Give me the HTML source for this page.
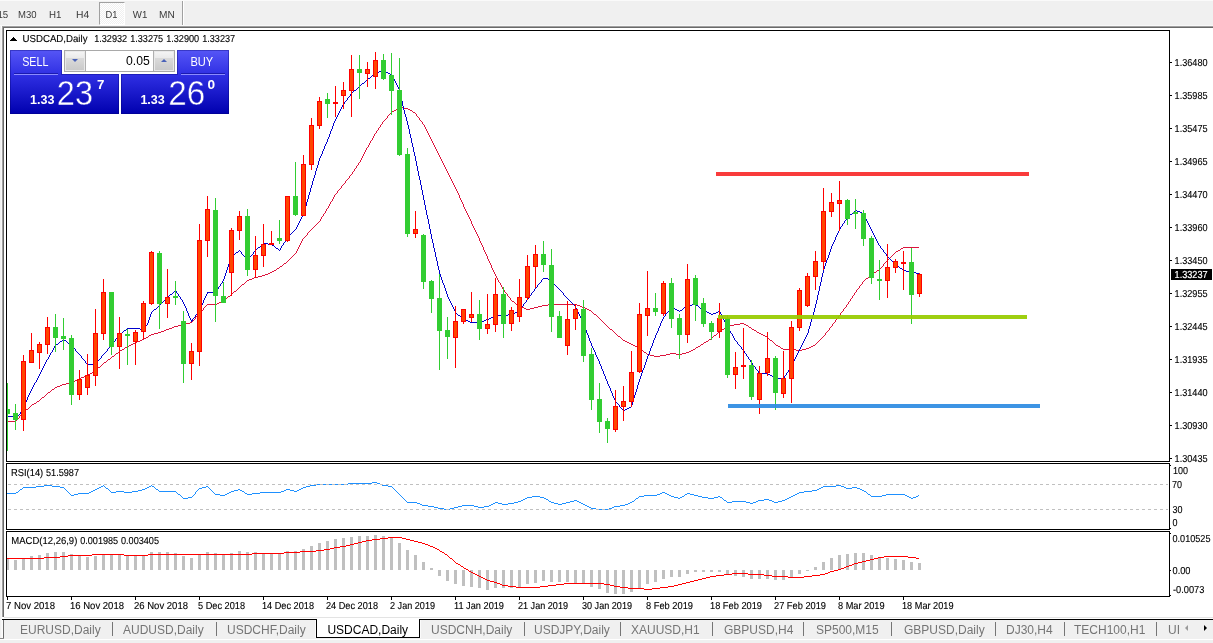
<!DOCTYPE html>
<html><head><meta charset="utf-8"><title>USDCAD,Daily</title>
<style>
html,body{margin:0;padding:0;background:#fff;}
body{width:1213px;height:643px;position:relative;overflow:hidden;font-family:"Liberation Sans",sans-serif;}
#chart{position:absolute;left:0;top:0;}
#chart text{font-family:"Liberation Sans",sans-serif;}
.abs{position:absolute;}
#tb{left:0;top:0;width:1213px;height:26px;background:#f0f0f0;}
#tb span{position:absolute;top:8px;font-size:9.4px;color:#3c3c3c;line-height:11px;white-space:nowrap;letter-spacing:0.25px;}
#d1{left:99px;top:2px;width:24px;height:21px;border:1px solid #a0a0a0;border-right-color:#fff;border-bottom-color:#fff;background-color:#fff;background-image:conic-gradient(#fff 25%,#f0f0f0 0 50%,#fff 0 75%,#f0f0f0 0);background-size:2px 2px;}
#tabs{left:4px;top:620px;width:1209px;height:19px;background:#f0f0f0;}
#tabs span{position:absolute;top:3px;font-size:12px;line-height:14px;color:#757575;white-space:nowrap;}
#tabs i{position:absolute;top:2px;width:1px;height:14px;background:#767676;}
.tp{background:linear-gradient(#5252f2,#2f2fe2 40%,#0000b0);}
</style></head><body>
<div class="abs" id="tb">
<div class="abs" id="d1"></div>
<div class="abs" style="left:182px;top:1px;width:1px;height:24px;background:#a0a0a0"></div>
<div class="abs" style="left:183px;top:1px;width:1px;height:24px;background:#fff"></div>
</div>
<div class="abs" style="left:0;top:0;width:1213px;height:1px;background:#fafafa"></div>
<div class="abs" style="left:0;top:25px;width:1213px;height:1px;background:#f8f8f8"></div>
<div class="abs" style="left:2px;top:26px;width:1213px;height:1px;background:#a0a0a0"></div>
<div class="abs" style="left:3px;top:27px;width:1213px;height:1px;background:#696969"></div>
<div class="abs" style="left:0;top:26px;width:1px;height:614px;background:#f0f0f0"></div>
<div class="abs" style="left:1px;top:28px;width:1px;height:610px;background:#f7f7f7"></div>
<div class="abs" style="left:2px;top:26px;width:1px;height:591px;background:#a0a0a0"></div>
<div class="abs" style="left:3px;top:27px;width:1px;height:590px;background:#696969"></div>
<div class="abs" style="left:2px;top:620px;width:1px;height:18px;background:#fbfbfb"></div>
<div class="abs" style="left:3px;top:620px;width:1px;height:18px;background:#696969"></div>
<!-- tabs -->
<div class="abs" style="left:4px;top:617px;width:1213px;height:1px;background:#e3e3e3"></div>
<div class="abs" style="left:2px;top:619px;width:1213px;height:1px;background:#000"></div>
<div class="abs" id="tabs"><div class="abs" style="left:-4px;top:0">
<span style="left:20px">EURUSD,Daily</span><i style="left:112px"></i>
<span style="left:123px">AUDUSD,Daily</span><i style="left:216px"></i>
<span style="left:227px">USDCHF,Daily</span>
<span style="left:431px">USDCNH,Daily</span><i style="left:524px"></i>
<span style="left:534px">USDJPY,Daily</span><i style="left:620px"></i>
<span style="left:631px">XAUUSD,H1</span><i style="left:712px"></i>
<span style="left:724px">GBPUSD,H4</span><i style="left:803px"></i>
<span style="left:816px">SP500,M15</span><i style="left:891px"></i>
<span style="left:904px">GBPUSD,Daily</span><i style="left:995px"></i>
<span style="left:1006px">DJ30,H4</span><i style="left:1064px"></i>
<span style="left:1074px">TECH100,H1</span><i style="left:1156px"></i>
<span style="left:1168px">UI</span>
<div class="abs" style="left:1181px;top:0;width:32px;height:18px;background:#f0f0f0"></div>
<div class="abs" style="left:1185px;top:5px;width:0;height:0;border-top:3px solid transparent;border-bottom:3px solid transparent;border-right:3.5px solid #9a9a9a"></div>
<div class="abs" style="left:1204px;top:5px;width:0;height:0;border-top:3px solid transparent;border-bottom:3px solid transparent;border-left:3.5px solid #000"></div>
</div></div>
<div class="abs" style="left:315px;top:620px;width:1px;height:18px;background:#fbfbfb"></div>
<div class="abs" style="left:420px;top:620px;width:1px;height:18px;background:#fbfbfb"></div>
<div class="abs" style="left:316px;top:619px;width:102px;height:18px;background:#fff;border-left:1px solid #000;border-right:1px solid #000;border-bottom:1px solid #000;"></div>
<div class="abs" style="left:327.4px;top:623px;font-size:12px;line-height:14px;color:#000;white-space:nowrap">USDCAD,Daily</div>
<div class="abs" style="left:0;top:638px;width:4px;height:1px;background:#8a8a8a"></div>
<div class="abs" style="left:0;top:639px;width:1213px;height:1px;background:#fff"></div>
<div class="abs" style="left:0;top:640px;width:1213px;height:3px;background:#f0f0f0"></div>
<svg id="chart" width="1213" height="643" viewBox="0 0 1213 643">
<g shape-rendering="crispEdges">
<path d="M6.5 30.5H1169.5V461.5H6.5Z" fill="none" stroke="#000" stroke-width="1"/>
<path d="M6.5 463.5H1169.5V529.5H6.5Z" fill="none" stroke="#000" stroke-width="1"/>
<path d="M6.5 531.5H1169.5V596.5H6.5Z" fill="none" stroke="#000" stroke-width="1"/>
<rect x="1170" y="62" width="2" height="1" fill="#000"/>
<rect x="1170" y="95" width="2" height="1" fill="#000"/>
<rect x="1170" y="128" width="2" height="1" fill="#000"/>
<rect x="1170" y="161" width="2" height="1" fill="#000"/>
<rect x="1170" y="194" width="2" height="1" fill="#000"/>
<rect x="1170" y="227" width="2" height="1" fill="#000"/>
<rect x="1170" y="260" width="2" height="1" fill="#000"/>
<rect x="1170" y="293" width="2" height="1" fill="#000"/>
<rect x="1170" y="326" width="2" height="1" fill="#000"/>
<rect x="1170" y="359" width="2" height="1" fill="#000"/>
<rect x="1170" y="392" width="2" height="1" fill="#000"/>
<rect x="1170" y="425" width="2" height="1" fill="#000"/>
<rect x="1170" y="458" width="2" height="1" fill="#000"/>
</g>
<clipPath id="cm"><rect x="7" y="31" width="1162" height="430"/></clipPath>
<clipPath id="cr"><rect x="7" y="464" width="1162" height="65"/></clipPath>
<clipPath id="cd"><rect x="7" y="532" width="1162" height="64"/></clipPath>
<path d="M399 107h5v1h-5zM397 108h2v1h-2zM404 108h4v1h-4zM408 109h2v1h-2zM394 110h2v1h-2zM410 110h2v1h-2zM392 111h2v1h-2zM413 112h2v1h-2zM903 247h16v1h-16zM901 248h2v1h-2zM898 250h2v1h-2zM896 251h2v1h-2zM284 263h2v1h-2zM280 266h2v1h-2zM277 268h2v1h-2zM274 270h2v1h-2zM877 270h2v1h-2zM272 271h2v1h-2zM270 272h2v1h-2zM874 272h2v1h-2zM268 273h2v1h-2zM872 273h2v1h-2zM265 274h3v1h-3zM262 275h3v1h-3zM258 276h4v1h-4zM254 277h4v1h-4zM252 278h2v1h-2zM866 278h2v1h-2zM249 279h3v1h-3zM247 280h2v1h-2zM242 284h2v1h-2zM234 291h2v1h-2zM228 296h2v1h-2zM224 299h2v1h-2zM221 301h2v1h-2zM512 301h2v1h-2zM219 302h2v1h-2zM217 303h2v1h-2zM207 304h10v1h-10zM516 304h2v1h-2zM548 304h29v1h-29zM542 305h6v1h-6zM577 305h3v1h-3zM519 306h2v1h-2zM538 306h4v1h-4zM580 306h2v1h-2zM521 307h3v1h-3zM534 307h4v1h-4zM582 307h3v1h-3zM524 308h2v1h-2zM530 308h4v1h-4zM585 308h2v1h-2zM526 309h4v1h-4zM587 309h2v1h-2zM589 310h2v1h-2zM594 314h2v1h-2zM190 322h2v1h-2zM186 323h4v1h-4zM740 323h4v1h-4zM182 324h4v1h-4zM734 324h6v1h-6zM744 324h2v1h-2zM178 325h4v1h-4zM730 325h4v1h-4zM746 325h2v1h-2zM174 326h4v1h-4zM727 326h3v1h-3zM172 327h2v1h-2zM725 327h2v1h-2zM749 327h2v1h-2zM169 328h3v1h-3zM166 329h3v1h-3zM610 329h2v1h-2zM722 329h2v1h-2zM752 329h2v1h-2zM164 330h2v1h-2zM720 330h2v1h-2zM754 330h2v1h-2zM161 331h3v1h-3zM158 332h3v1h-3zM757 332h2v1h-2zM154 333h4v1h-4zM759 333h2v1h-2zM151 334h3v1h-3zM761 334h2v1h-2zM149 335h2v1h-2zM714 335h2v1h-2zM763 335h2v1h-2zM618 336h2v1h-2zM765 336h2v1h-2zM146 337h2v1h-2zM144 338h2v1h-2zM142 339h2v1h-2zM709 339h2v1h-2zM140 340h2v1h-2zM623 340h2v1h-2zM770 340h2v1h-2zM137 341h3v1h-3zM625 341h2v1h-2zM706 341h2v1h-2zM135 342h2v1h-2zM627 342h2v1h-2zM704 342h2v1h-2zM133 343h2v1h-2zM629 343h2v1h-2zM131 344h2v1h-2zM631 344h2v1h-2zM701 344h2v1h-2zM129 345h2v1h-2zM633 345h2v1h-2zM776 345h2v1h-2zM813 345h2v1h-2zM127 346h2v1h-2zM635 346h2v1h-2zM698 346h2v1h-2zM778 346h2v1h-2zM811 346h2v1h-2zM125 347h2v1h-2zM637 347h2v1h-2zM696 347h2v1h-2zM809 347h2v1h-2zM781 348h2v1h-2zM806 348h3v1h-3zM122 349h2v1h-2zM640 349h2v1h-2zM693 349h2v1h-2zM783 349h13v1h-13zM802 349h4v1h-4zM120 350h2v1h-2zM691 350h2v1h-2zM796 350h6v1h-6zM689 351h2v1h-2zM644 352h2v1h-2zM686 352h3v1h-3zM116 353h2v1h-2zM670 353h6v1h-6zM682 353h4v1h-4zM647 354h3v1h-3zM666 354h4v1h-4zM676 354h6v1h-6zM650 355h4v1h-4zM660 355h6v1h-6zM112 356h2v1h-2zM654 356h6v1h-6zM108 359h2v1h-2zM104 362h2v1h-2zM98 367h2v1h-2zM93 371h2v1h-2zM90 373h2v1h-2zM88 374h2v1h-2zM86 375h2v1h-2zM84 376h2v1h-2zM81 377h3v1h-3zM79 378h2v1h-2zM77 379h2v1h-2zM75 380h2v1h-2zM73 381h2v1h-2zM70 382h3v1h-3zM66 383h4v1h-4zM62 384h4v1h-4zM60 385h2v1h-2zM57 386h3v1h-3zM55 387h2v1h-2zM52 389h2v1h-2zM48 392h2v1h-2zM42 397h2v1h-2zM37 401h2v1h-2zM34 403h2v1h-2zM32 404h2v1h-2zM26 409h2v1h-2zM8 421h8v1h-8zM16 420h1v1h-1zM17 419h1v1h-1zM18 418h1v1h-1zM19 416h1v2h-1zM20 415h1v1h-1zM21 414h1v1h-1zM22 413h1v1h-1zM23 412h1v1h-1zM24 411h1v1h-1zM25 410h1v1h-1zM28 408h1v1h-1zM29 407h1v1h-1zM30 406h1v1h-1zM31 405h1v1h-1zM36 402h1v1h-1zM39 400h1v1h-1zM40 399h1v1h-1zM41 398h1v1h-1zM44 396h1v1h-1zM45 395h1v1h-1zM46 394h1v1h-1zM47 393h1v1h-1zM50 391h1v1h-1zM51 390h1v1h-1zM54 388h1v1h-1zM92 372h1v1h-1zM95 370h1v1h-1zM96 369h1v1h-1zM97 368h1v1h-1zM100 366h1v1h-1zM101 365h1v1h-1zM102 364h1v1h-1zM103 363h1v1h-1zM106 361h1v1h-1zM107 360h1v1h-1zM110 358h1v1h-1zM111 357h1v1h-1zM114 355h1v1h-1zM115 354h1v1h-1zM118 352h1v1h-1zM119 351h1v1h-1zM124 348h1v1h-1zM148 336h1v1h-1zM192 321h1v1h-1zM193 320h1v1h-1zM194 319h1v1h-1zM195 317h1v2h-1zM196 316h1v1h-1zM197 315h1v1h-1zM198 314h1v1h-1zM199 313h1v1h-1zM200 312h1v1h-1zM201 311h1v1h-1zM202 310h1v1h-1zM203 308h1v2h-1zM204 307h1v1h-1zM205 306h1v1h-1zM206 305h1v1h-1zM223 300h1v1h-1zM226 298h1v1h-1zM227 297h1v1h-1zM230 295h1v1h-1zM231 294h1v1h-1zM232 293h1v1h-1zM233 292h1v1h-1zM236 290h1v1h-1zM237 289h1v1h-1zM238 288h1v1h-1zM239 287h1v1h-1zM240 286h1v1h-1zM241 285h1v1h-1zM244 283h1v1h-1zM245 282h1v1h-1zM246 281h1v1h-1zM276 269h1v1h-1zM279 267h1v1h-1zM282 265h1v1h-1zM283 264h1v1h-1zM286 262h1v1h-1zM287 261h1v1h-1zM288 260h1v1h-1zM289 259h1v1h-1zM290 258h1v1h-1zM291 257h1v1h-1zM292 256h1v1h-1zM293 255h1v1h-1zM294 254h1v1h-1zM295 253h1v1h-1zM296 251h1v2h-1zM297 249h1v2h-1zM298 247h1v2h-1zM299 245h1v2h-1zM300 243h1v2h-1zM301 241h1v2h-1zM302 239h1v2h-1zM303 238h1v1h-1zM304 237h1v1h-1zM305 236h1v1h-1zM306 235h1v1h-1zM307 233h1v2h-1zM308 232h1v1h-1zM309 231h1v1h-1zM310 230h1v1h-1zM311 229h1v1h-1zM312 228h1v1h-1zM313 227h1v1h-1zM314 226h1v1h-1zM315 225h1v1h-1zM316 224h1v1h-1zM317 223h1v1h-1zM318 222h1v1h-1zM319 221h1v1h-1zM320 219h1v2h-1zM321 217h1v2h-1zM322 216h1v1h-1zM323 214h1v2h-1zM324 213h1v1h-1zM325 211h1v2h-1zM326 209h1v2h-1zM327 208h1v1h-1zM328 206h1v2h-1zM329 204h1v2h-1zM330 202h1v2h-1zM331 201h1v1h-1zM332 199h1v2h-1zM333 197h1v2h-1zM334 195h1v2h-1zM335 194h1v1h-1zM336 193h1v1h-1zM337 191h1v2h-1zM338 190h1v1h-1zM339 189h1v1h-1zM340 188h1v1h-1zM341 186h1v2h-1zM342 185h1v1h-1zM343 184h1v1h-1zM344 183h1v1h-1zM345 181h1v2h-1zM346 180h1v1h-1zM347 179h1v1h-1zM348 178h1v1h-1zM349 176h1v2h-1zM350 175h1v1h-1zM351 174h1v1h-1zM352 172h1v2h-1zM353 171h1v1h-1zM354 169h1v2h-1zM355 168h1v1h-1zM356 166h1v2h-1zM357 165h1v1h-1zM358 163h1v2h-1zM359 162h1v1h-1zM360 160h1v2h-1zM361 158h1v2h-1zM362 156h1v2h-1zM363 154h1v2h-1zM364 152h1v2h-1zM365 150h1v2h-1zM366 148h1v2h-1zM367 147h1v1h-1zM368 145h1v2h-1zM369 143h1v2h-1zM370 141h1v2h-1zM371 140h1v1h-1zM372 138h1v2h-1zM373 136h1v2h-1zM374 134h1v2h-1zM375 133h1v1h-1zM376 131h1v2h-1zM377 130h1v1h-1zM378 128h1v2h-1zM379 127h1v1h-1zM380 125h1v2h-1zM381 124h1v1h-1zM382 122h1v2h-1zM383 121h1v1h-1zM384 120h1v1h-1zM385 119h1v1h-1zM386 118h1v1h-1zM387 116h1v2h-1zM388 115h1v1h-1zM389 114h1v1h-1zM390 113h1v1h-1zM391 112h1v1h-1zM396 109h1v1h-1zM412 111h1v1h-1zM415 113h1v1h-1zM416 114h1v2h-1zM417 116h1v1h-1zM418 117h1v1h-1zM419 118h1v2h-1zM420 120h1v1h-1zM421 121h1v1h-1zM422 122h1v2h-1zM423 124h1v1h-1zM424 125h1v2h-1zM425 127h1v2h-1zM426 129h1v2h-1zM427 131h1v2h-1zM428 133h1v2h-1zM429 135h1v2h-1zM430 137h1v2h-1zM431 139h1v2h-1zM432 141h1v2h-1zM433 143h1v2h-1zM434 145h1v2h-1zM435 147h1v2h-1zM436 149h1v2h-1zM437 151h1v2h-1zM438 153h1v2h-1zM439 155h1v2h-1zM440 157h1v2h-1zM441 159h1v2h-1zM442 161h1v2h-1zM443 163h1v2h-1zM444 165h1v2h-1zM445 167h1v2h-1zM446 169h1v2h-1zM447 171h1v2h-1zM448 173h1v2h-1zM449 175h1v2h-1zM450 177h1v2h-1zM451 179h1v2h-1zM452 181h1v2h-1zM453 183h1v2h-1zM454 185h1v2h-1zM455 187h1v2h-1zM456 189h1v2h-1zM457 191h1v2h-1zM458 193h1v2h-1zM459 195h1v3h-1zM460 198h1v2h-1zM461 200h1v2h-1zM462 202h1v2h-1zM463 204h1v3h-1zM464 207h1v2h-1zM465 209h1v2h-1zM466 211h1v2h-1zM467 213h1v2h-1zM468 215h1v2h-1zM469 217h1v2h-1zM470 219h1v2h-1zM471 221h1v3h-1zM472 224h1v2h-1zM473 226h1v2h-1zM474 228h1v2h-1zM475 230h1v2h-1zM476 232h1v2h-1zM477 234h1v2h-1zM478 236h1v2h-1zM479 238h1v3h-1zM480 241h1v2h-1zM481 243h1v2h-1zM482 245h1v2h-1zM483 247h1v3h-1zM484 250h1v2h-1zM485 252h1v2h-1zM486 254h1v2h-1zM487 256h1v3h-1zM488 259h1v2h-1zM489 261h1v2h-1zM490 263h1v2h-1zM491 265h1v3h-1zM492 268h1v2h-1zM493 270h1v2h-1zM494 272h1v2h-1zM495 274h1v2h-1zM496 276h1v2h-1zM497 278h1v2h-1zM498 280h1v2h-1zM499 282h1v1h-1zM500 283h1v2h-1zM501 285h1v2h-1zM502 287h1v2h-1zM503 289h1v1h-1zM504 290h1v2h-1zM505 292h1v1h-1zM506 293h1v1h-1zM507 294h1v2h-1zM508 296h1v1h-1zM509 297h1v1h-1zM510 298h1v2h-1zM511 300h1v1h-1zM514 302h1v1h-1zM515 303h1v1h-1zM518 305h1v1h-1zM591 311h1v1h-1zM592 312h1v1h-1zM593 313h1v1h-1zM596 315h1v1h-1zM597 316h1v1h-1zM598 317h1v1h-1zM599 318h1v1h-1zM600 319h1v1h-1zM601 320h1v1h-1zM602 321h1v1h-1zM603 322h1v1h-1zM604 323h1v1h-1zM605 324h1v1h-1zM606 325h1v1h-1zM607 326h1v1h-1zM608 327h1v1h-1zM609 328h1v1h-1zM612 330h1v1h-1zM613 331h1v1h-1zM614 332h1v1h-1zM615 333h1v1h-1zM616 334h1v1h-1zM617 335h1v1h-1zM620 337h1v1h-1zM621 338h1v1h-1zM622 339h1v1h-1zM639 348h1v1h-1zM642 350h1v1h-1zM643 351h1v1h-1zM646 353h1v1h-1zM695 348h1v1h-1zM700 345h1v1h-1zM703 343h1v1h-1zM708 340h1v1h-1zM711 338h1v1h-1zM712 337h1v1h-1zM713 336h1v1h-1zM716 334h1v1h-1zM717 333h1v1h-1zM718 332h1v1h-1zM719 331h1v1h-1zM724 328h1v1h-1zM748 326h1v1h-1zM751 328h1v1h-1zM756 331h1v1h-1zM767 337h1v1h-1zM768 338h1v1h-1zM769 339h1v1h-1zM772 341h1v1h-1zM773 342h1v1h-1zM774 343h1v1h-1zM775 344h1v1h-1zM780 347h1v1h-1zM815 344h1v1h-1zM816 343h1v1h-1zM817 342h1v1h-1zM818 341h1v1h-1zM819 340h1v1h-1zM820 339h1v1h-1zM821 338h1v1h-1zM822 337h1v1h-1zM823 336h1v1h-1zM824 335h1v1h-1zM825 333h1v2h-1zM826 332h1v1h-1zM827 331h1v1h-1zM828 330h1v1h-1zM829 328h1v2h-1zM830 327h1v1h-1zM831 326h1v1h-1zM832 324h1v2h-1zM833 323h1v1h-1zM834 322h1v1h-1zM835 320h1v2h-1zM836 319h1v1h-1zM837 318h1v1h-1zM838 316h1v2h-1zM839 315h1v1h-1zM840 313h1v2h-1zM841 312h1v1h-1zM842 311h1v1h-1zM843 309h1v2h-1zM844 308h1v1h-1zM845 307h1v1h-1zM846 305h1v2h-1zM847 304h1v1h-1zM848 302h1v2h-1zM849 301h1v1h-1zM850 299h1v2h-1zM851 298h1v1h-1zM852 296h1v2h-1zM853 295h1v1h-1zM854 293h1v2h-1zM855 292h1v1h-1zM856 290h1v2h-1zM857 289h1v1h-1zM858 288h1v1h-1zM859 286h1v2h-1zM860 285h1v1h-1zM861 284h1v1h-1zM862 282h1v2h-1zM863 281h1v1h-1zM864 280h1v1h-1zM865 279h1v1h-1zM868 277h1v1h-1zM869 276h1v1h-1zM870 275h1v1h-1zM871 274h1v1h-1zM876 271h1v1h-1zM879 269h1v1h-1zM880 268h1v1h-1zM881 267h1v1h-1zM882 266h1v1h-1zM883 264h1v2h-1zM884 263h1v1h-1zM885 262h1v1h-1zM886 261h1v1h-1zM887 260h1v1h-1zM888 259h1v1h-1zM889 258h1v1h-1zM890 257h1v1h-1zM891 256h1v1h-1zM892 255h1v1h-1zM893 254h1v1h-1zM894 253h1v1h-1zM895 252h1v1h-1zM900 249h1v1h-1z" fill="#dc143c" shape-rendering="crispEdges"/>
<path d="M379 71h6v1h-6zM377 72h2v1h-2zM385 72h3v1h-3zM375 73h2v1h-2zM388 73h2v1h-2zM390 74h2v1h-2zM372 75h2v1h-2zM368 78h2v1h-2zM362 83h2v1h-2zM354 90h2v1h-2zM855 210h2v1h-2zM857 211h3v1h-3zM860 212h2v1h-2zM862 213h2v1h-2zM850 214h2v1h-2zM263 243h5v1h-5zM268 244h4v1h-4zM272 245h2v1h-2zM258 247h2v1h-2zM276 248h2v1h-2zM236 252h2v1h-2zM232 255h2v1h-2zM896 265h2v1h-2zM900 268h2v1h-2zM903 270h3v1h-3zM906 271h4v1h-4zM910 272h6v1h-6zM916 273h3v1h-3zM543 278h5v1h-5zM548 279h2v1h-2zM207 292h9v1h-9zM170 294h2v1h-2zM692 304h4v1h-4zM687 305h5v1h-5zM696 305h2v1h-2zM671 307h2v1h-2zM684 307h2v1h-2zM673 308h2v1h-2zM700 308h2v1h-2zM154 309h2v1h-2zM675 309h2v1h-2zM677 310h2v1h-2zM680 310h2v1h-2zM703 310h2v1h-2zM517 311h2v1h-2zM705 311h2v1h-2zM718 311h2v1h-2zM515 312h2v1h-2zM707 312h2v1h-2zM716 312h2v1h-2zM513 313h2v1h-2zM709 313h2v1h-2zM713 313h3v1h-3zM508 314h5v1h-5zM711 314h2v1h-2zM458 315h2v1h-2zM495 315h13v1h-13zM493 316h2v1h-2zM491 317h2v1h-2zM489 318h2v1h-2zM463 319h2v1h-2zM486 319h3v1h-3zM191 320h2v1h-2zM465 320h3v1h-3zM484 320h2v1h-2zM468 321h2v1h-2zM481 321h3v1h-3zM470 322h11v1h-11zM127 328h13v1h-13zM140 329h4v1h-4zM124 330h2v1h-2zM120 333h2v1h-2zM64 340h2v1h-2zM60 341h2v1h-2zM68 343h2v1h-2zM56 344h2v1h-2zM87 364h9v1h-9zM759 373h9v1h-9zM768 374h2v1h-2zM770 375h2v1h-2zM773 377h2v1h-2zM775 378h9v1h-9zM629 407h2v1h-2zM627 408h2v1h-2zM625 409h2v1h-2zM623 410h2v1h-2zM17 415h2v1h-2zM8 416h9v1h-9zM19 414h1v1h-1zM20 412h1v2h-1zM21 410h1v2h-1zM22 408h1v2h-1zM23 406h1v2h-1zM24 404h1v2h-1zM25 402h1v2h-1zM26 400h1v2h-1zM27 397h1v3h-1zM28 395h1v2h-1zM29 393h1v2h-1zM30 391h1v2h-1zM31 389h1v2h-1zM32 387h1v2h-1zM33 385h1v2h-1zM34 383h1v2h-1zM35 382h1v1h-1zM36 380h1v2h-1zM37 378h1v2h-1zM38 376h1v2h-1zM39 374h1v2h-1zM40 372h1v2h-1zM41 370h1v2h-1zM42 368h1v2h-1zM43 366h1v2h-1zM44 364h1v2h-1zM45 362h1v2h-1zM46 360h1v2h-1zM47 359h1v1h-1zM48 357h1v2h-1zM49 355h1v2h-1zM50 353h1v2h-1zM51 352h1v1h-1zM52 350h1v2h-1zM53 348h1v2h-1zM54 346h1v2h-1zM55 345h1v1h-1zM58 343h1v1h-1zM59 342h1v1h-1zM62 340h1v1h-1zM63 339h1v1h-1zM66 341h1v1h-1zM67 342h1v1h-1zM70 344h1v1h-1zM71 345h1v1h-1zM72 346h1v1h-1zM73 347h1v1h-1zM74 348h1v1h-1zM75 349h1v2h-1zM76 351h1v1h-1zM77 352h1v1h-1zM78 353h1v1h-1zM79 354h1v1h-1zM80 355h1v1h-1zM81 356h1v2h-1zM82 358h1v1h-1zM83 359h1v1h-1zM84 360h1v1h-1zM85 361h1v2h-1zM86 363h1v1h-1zM96 363h1v1h-1zM97 361h1v2h-1zM98 360h1v1h-1zM99 359h1v1h-1zM100 358h1v1h-1zM101 356h1v2h-1zM102 355h1v1h-1zM103 354h1v1h-1zM104 353h1v1h-1zM105 352h1v1h-1zM106 351h1v1h-1zM107 349h1v2h-1zM108 348h1v1h-1zM109 347h1v1h-1zM110 346h1v1h-1zM111 345h1v1h-1zM112 343h1v2h-1zM113 342h1v1h-1zM114 341h1v1h-1zM115 339h1v2h-1zM116 338h1v1h-1zM117 337h1v1h-1zM118 335h1v2h-1zM119 334h1v1h-1zM122 332h1v1h-1zM123 331h1v1h-1zM126 329h1v1h-1zM144 328h1v1h-1zM145 326h1v2h-1zM146 325h1v1h-1zM147 323h1v2h-1zM148 320h1v3h-1zM149 317h1v3h-1zM150 314h1v3h-1zM151 312h1v2h-1zM152 311h1v1h-1zM153 310h1v1h-1zM156 308h1v1h-1zM157 307h1v1h-1zM158 306h1v1h-1zM159 305h1v1h-1zM160 304h1v1h-1zM161 303h1v1h-1zM162 302h1v1h-1zM163 301h1v1h-1zM164 300h1v1h-1zM165 299h1v1h-1zM166 298h1v1h-1zM167 297h1v1h-1zM168 296h1v1h-1zM169 295h1v1h-1zM172 293h1v1h-1zM173 292h1v1h-1zM174 291h1v1h-1zM175 290h1v1h-1zM176 291h1v2h-1zM177 293h1v1h-1zM178 294h1v2h-1zM179 296h1v1h-1zM180 297h1v2h-1zM181 299h1v1h-1zM182 300h1v2h-1zM183 302h1v2h-1zM184 304h1v2h-1zM185 306h1v2h-1zM186 308h1v3h-1zM187 311h1v2h-1zM188 313h1v3h-1zM189 316h1v2h-1zM190 318h1v2h-1zM191 321h1v1h-1zM192 319h1v1h-1zM193 318h1v1h-1zM194 317h1v1h-1zM195 315h1v2h-1zM196 314h1v1h-1zM197 313h1v1h-1zM198 311h1v2h-1zM199 309h1v2h-1zM200 307h1v2h-1zM201 305h1v2h-1zM202 303h1v2h-1zM203 300h1v3h-1zM204 298h1v2h-1zM205 296h1v2h-1zM206 294h1v2h-1zM207 293h1v1h-1zM216 290h1v2h-1zM217 289h1v1h-1zM218 287h1v2h-1zM219 286h1v1h-1zM220 284h1v2h-1zM221 283h1v1h-1zM222 281h1v2h-1zM223 279h1v2h-1zM224 276h1v3h-1zM225 273h1v3h-1zM226 270h1v3h-1zM227 267h1v3h-1zM228 264h1v3h-1zM229 261h1v3h-1zM230 258h1v3h-1zM231 256h1v2h-1zM234 254h1v1h-1zM235 253h1v1h-1zM238 251h1v1h-1zM239 250h1v1h-1zM240 251h1v1h-1zM241 252h1v2h-1zM242 254h1v1h-1zM243 255h1v1h-1zM244 256h1v1h-1zM245 257h1v2h-1zM246 259h1v1h-1zM247 260h1v1h-1zM248 259h1v1h-1zM249 257h1v2h-1zM250 256h1v1h-1zM251 255h1v1h-1zM252 254h1v1h-1zM253 252h1v2h-1zM254 251h1v1h-1zM255 250h1v1h-1zM256 249h1v1h-1zM257 248h1v1h-1zM260 246h1v1h-1zM261 245h1v1h-1zM262 244h1v1h-1zM274 246h1v1h-1zM275 247h1v1h-1zM278 249h1v1h-1zM279 250h1v1h-1zM280 248h1v2h-1zM281 246h1v2h-1zM282 245h1v1h-1zM283 243h1v2h-1zM284 242h1v1h-1zM285 240h1v2h-1zM286 238h1v2h-1zM287 237h1v1h-1zM288 236h1v1h-1zM289 235h1v1h-1zM290 234h1v1h-1zM291 233h1v1h-1zM292 232h1v1h-1zM293 231h1v1h-1zM294 230h1v1h-1zM295 229h1v1h-1zM296 227h1v2h-1zM297 225h1v2h-1zM298 223h1v2h-1zM299 221h1v2h-1zM300 219h1v2h-1zM301 217h1v2h-1zM302 215h1v2h-1zM303 213h1v2h-1zM304 209h1v4h-1zM305 206h1v3h-1zM306 202h1v4h-1zM307 199h1v3h-1zM308 195h1v4h-1zM309 192h1v3h-1zM310 188h1v4h-1zM311 185h1v3h-1zM312 181h1v4h-1zM313 178h1v3h-1zM314 175h1v3h-1zM315 171h1v4h-1zM316 168h1v3h-1zM317 165h1v3h-1zM318 161h1v4h-1zM319 158h1v3h-1zM320 156h1v2h-1zM321 154h1v2h-1zM322 151h1v3h-1zM323 149h1v2h-1zM324 146h1v3h-1zM325 144h1v2h-1zM326 142h1v2h-1zM327 139h1v3h-1zM328 137h1v2h-1zM329 134h1v3h-1zM330 131h1v3h-1zM331 129h1v2h-1zM332 126h1v3h-1zM333 123h1v3h-1zM334 121h1v2h-1zM335 119h1v2h-1zM336 117h1v2h-1zM337 115h1v2h-1zM338 113h1v2h-1zM339 111h1v2h-1zM340 109h1v2h-1zM341 107h1v2h-1zM342 105h1v2h-1zM343 104h1v1h-1zM344 102h1v2h-1zM345 101h1v1h-1zM346 100h1v1h-1zM347 98h1v2h-1zM348 97h1v1h-1zM349 96h1v1h-1zM350 94h1v2h-1zM351 93h1v1h-1zM352 92h1v1h-1zM353 91h1v1h-1zM356 89h1v1h-1zM357 88h1v1h-1zM358 87h1v1h-1zM359 86h1v1h-1zM360 85h1v1h-1zM361 84h1v1h-1zM364 82h1v1h-1zM365 81h1v1h-1zM366 80h1v1h-1zM367 79h1v1h-1zM370 77h1v1h-1zM371 76h1v1h-1zM374 74h1v1h-1zM392 75h1v2h-1zM393 77h1v2h-1zM394 79h1v2h-1zM395 81h1v2h-1zM396 83h1v2h-1zM397 85h1v2h-1zM398 87h1v2h-1zM399 89h1v3h-1zM400 92h1v5h-1zM401 97h1v4h-1zM402 101h1v5h-1zM403 106h1v4h-1zM404 110h1v4h-1zM405 114h1v3h-1zM406 117h1v4h-1zM407 121h1v4h-1zM408 125h1v4h-1zM409 129h1v5h-1zM410 134h1v4h-1zM411 138h1v5h-1zM412 143h1v4h-1zM413 147h1v5h-1zM414 152h1v4h-1zM415 156h1v5h-1zM416 161h1v5h-1zM417 166h1v5h-1zM418 171h1v5h-1zM419 176h1v4h-1zM420 180h1v5h-1zM421 185h1v5h-1zM422 190h1v5h-1zM423 195h1v5h-1zM424 200h1v5h-1zM425 205h1v5h-1zM426 210h1v5h-1zM427 215h1v4h-1zM428 219h1v5h-1zM429 224h1v5h-1zM430 229h1v5h-1zM431 234h1v5h-1zM432 239h1v4h-1zM433 243h1v5h-1zM434 248h1v4h-1zM435 252h1v5h-1zM436 257h1v4h-1zM437 261h1v5h-1zM438 266h1v4h-1zM439 270h1v4h-1zM440 274h1v3h-1zM441 277h1v3h-1zM442 280h1v3h-1zM443 283h1v2h-1zM444 285h1v3h-1zM445 288h1v3h-1zM446 291h1v3h-1zM447 294h1v3h-1zM448 297h1v2h-1zM449 299h1v2h-1zM450 301h1v2h-1zM451 303h1v2h-1zM452 305h1v2h-1zM453 307h1v2h-1zM454 309h1v2h-1zM455 311h1v2h-1zM456 313h1v1h-1zM457 314h1v1h-1zM460 316h1v1h-1zM461 317h1v1h-1zM462 318h1v1h-1zM519 310h1v1h-1zM520 308h1v2h-1zM521 307h1v1h-1zM522 306h1v1h-1zM523 304h1v2h-1zM524 303h1v1h-1zM525 302h1v1h-1zM526 300h1v2h-1zM527 299h1v1h-1zM528 297h1v2h-1zM529 296h1v1h-1zM530 295h1v1h-1zM531 293h1v2h-1zM532 292h1v1h-1zM533 291h1v1h-1zM534 289h1v2h-1zM535 288h1v1h-1zM536 287h1v1h-1zM537 285h1v2h-1zM538 284h1v1h-1zM539 283h1v1h-1zM540 282h1v1h-1zM541 280h1v2h-1zM542 279h1v1h-1zM550 280h1v1h-1zM551 281h1v1h-1zM552 282h1v1h-1zM553 283h1v1h-1zM554 284h1v1h-1zM555 285h1v1h-1zM556 286h1v1h-1zM557 287h1v1h-1zM558 288h1v1h-1zM559 289h1v1h-1zM560 290h1v1h-1zM561 291h1v1h-1zM562 292h1v1h-1zM563 293h1v2h-1zM564 295h1v1h-1zM565 296h1v1h-1zM566 297h1v1h-1zM567 298h1v1h-1zM568 299h1v1h-1zM569 300h1v1h-1zM570 301h1v1h-1zM571 302h1v1h-1zM572 303h1v1h-1zM573 304h1v1h-1zM574 305h1v1h-1zM575 306h1v2h-1zM576 308h1v2h-1zM577 310h1v2h-1zM578 312h1v2h-1zM579 314h1v2h-1zM580 316h1v2h-1zM581 318h1v2h-1zM582 320h1v2h-1zM583 322h1v3h-1zM584 325h1v2h-1zM585 327h1v3h-1zM586 330h1v3h-1zM587 333h1v2h-1zM588 335h1v3h-1zM589 338h1v3h-1zM590 341h1v2h-1zM591 343h1v3h-1zM592 346h1v2h-1zM593 348h1v2h-1zM594 350h1v2h-1zM595 352h1v3h-1zM596 355h1v2h-1zM597 357h1v2h-1zM598 359h1v2h-1zM599 361h1v3h-1zM600 364h1v2h-1zM601 366h1v3h-1zM602 369h1v2h-1zM603 371h1v3h-1zM604 374h1v2h-1zM605 376h1v3h-1zM606 379h1v2h-1zM607 381h1v3h-1zM608 384h1v2h-1zM609 386h1v2h-1zM610 388h1v3h-1zM611 391h1v2h-1zM612 393h1v3h-1zM613 396h1v2h-1zM614 398h1v2h-1zM615 400h1v2h-1zM616 402h1v1h-1zM617 403h1v1h-1zM618 404h1v1h-1zM619 405h1v2h-1zM620 407h1v1h-1zM621 408h1v1h-1zM622 409h1v1h-1zM631 405h1v2h-1zM632 402h1v3h-1zM633 398h1v4h-1zM634 395h1v3h-1zM635 392h1v3h-1zM636 389h1v3h-1zM637 385h1v4h-1zM638 382h1v3h-1zM639 379h1v3h-1zM640 376h1v3h-1zM641 373h1v3h-1zM642 370h1v3h-1zM643 368h1v2h-1zM644 365h1v3h-1zM645 362h1v3h-1zM646 359h1v3h-1zM647 356h1v3h-1zM648 354h1v2h-1zM649 351h1v3h-1zM650 348h1v3h-1zM651 346h1v2h-1zM652 343h1v3h-1zM653 340h1v3h-1zM654 338h1v2h-1zM655 335h1v3h-1zM656 333h1v2h-1zM657 331h1v2h-1zM658 328h1v3h-1zM659 326h1v2h-1zM660 323h1v3h-1zM661 321h1v2h-1zM662 319h1v2h-1zM663 317h1v2h-1zM664 316h1v1h-1zM665 314h1v2h-1zM666 313h1v1h-1zM667 312h1v1h-1zM668 311h1v1h-1zM669 309h1v2h-1zM670 308h1v1h-1zM679 311h1v1h-1zM682 309h1v1h-1zM683 308h1v1h-1zM686 306h1v1h-1zM698 306h1v1h-1zM699 307h1v1h-1zM702 309h1v1h-1zM720 312h1v2h-1zM721 314h1v2h-1zM722 316h1v2h-1zM723 318h1v2h-1zM724 320h1v2h-1zM725 322h1v2h-1zM726 324h1v2h-1zM727 326h1v1h-1zM728 327h1v2h-1zM729 329h1v2h-1zM730 331h1v2h-1zM731 333h1v1h-1zM732 334h1v2h-1zM733 336h1v2h-1zM734 338h1v2h-1zM735 340h1v1h-1zM736 341h1v1h-1zM737 342h1v2h-1zM738 344h1v1h-1zM739 345h1v1h-1zM740 346h1v1h-1zM741 347h1v2h-1zM742 349h1v1h-1zM743 350h1v1h-1zM744 351h1v2h-1zM745 353h1v1h-1zM746 354h1v2h-1zM747 356h1v1h-1zM748 357h1v2h-1zM749 359h1v1h-1zM750 360h1v2h-1zM751 362h1v1h-1zM752 363h1v2h-1zM753 365h1v1h-1zM754 366h1v1h-1zM755 367h1v2h-1zM756 369h1v1h-1zM757 370h1v1h-1zM758 371h1v2h-1zM772 376h1v1h-1zM784 376h1v2h-1zM785 375h1v1h-1zM786 373h1v2h-1zM787 372h1v1h-1zM788 370h1v2h-1zM789 369h1v1h-1zM790 367h1v2h-1zM791 365h1v2h-1zM792 363h1v2h-1zM793 361h1v2h-1zM794 359h1v2h-1zM795 357h1v2h-1zM796 355h1v2h-1zM797 353h1v2h-1zM798 351h1v2h-1zM799 349h1v2h-1zM800 347h1v2h-1zM801 345h1v2h-1zM802 343h1v2h-1zM803 341h1v2h-1zM804 339h1v2h-1zM805 337h1v2h-1zM806 335h1v2h-1zM807 333h1v2h-1zM808 329h1v4h-1zM809 326h1v3h-1zM810 322h1v4h-1zM811 319h1v3h-1zM812 315h1v4h-1zM813 312h1v3h-1zM814 308h1v4h-1zM815 304h1v4h-1zM816 300h1v4h-1zM817 295h1v5h-1zM818 291h1v4h-1zM819 286h1v5h-1zM820 282h1v4h-1zM821 277h1v5h-1zM822 273h1v4h-1zM823 269h1v4h-1zM824 266h1v3h-1zM825 263h1v3h-1zM826 260h1v3h-1zM827 258h1v2h-1zM828 255h1v3h-1zM829 252h1v3h-1zM830 249h1v3h-1zM831 246h1v3h-1zM832 244h1v2h-1zM833 242h1v2h-1zM834 240h1v2h-1zM835 237h1v3h-1zM836 235h1v2h-1zM837 233h1v2h-1zM838 231h1v2h-1zM839 229h1v2h-1zM840 227h1v2h-1zM841 226h1v1h-1zM842 224h1v2h-1zM843 223h1v1h-1zM844 221h1v2h-1zM845 220h1v1h-1zM846 218h1v2h-1zM847 217h1v1h-1zM848 216h1v1h-1zM849 215h1v1h-1zM852 213h1v1h-1zM853 212h1v1h-1zM854 211h1v1h-1zM863 214h1v1h-1zM864 215h1v2h-1zM865 217h1v2h-1zM866 219h1v2h-1zM867 221h1v2h-1zM868 223h1v2h-1zM869 225h1v2h-1zM870 227h1v2h-1zM871 229h1v2h-1zM872 231h1v2h-1zM873 233h1v2h-1zM874 235h1v2h-1zM875 237h1v2h-1zM876 239h1v2h-1zM877 241h1v2h-1zM878 243h1v2h-1zM879 245h1v1h-1zM880 246h1v2h-1zM881 248h1v1h-1zM882 249h1v1h-1zM883 250h1v2h-1zM884 252h1v1h-1zM885 253h1v1h-1zM886 254h1v2h-1zM887 256h1v1h-1zM888 257h1v1h-1zM889 258h1v1h-1zM890 259h1v1h-1zM891 260h1v1h-1zM892 261h1v1h-1zM893 262h1v1h-1zM894 263h1v1h-1zM895 264h1v1h-1zM898 266h1v1h-1zM899 267h1v1h-1zM902 269h1v1h-1z" fill="#0000cd" shape-rendering="crispEdges"/>
<g clip-path="url(#cm)" shape-rendering="crispEdges">
<rect x="7" y="383" width="1" height="68" fill="#32cd32"/>
<rect x="5" y="409" width="5" height="5" fill="#32cd32"/>
<rect x="15" y="404" width="1" height="26" fill="#32cd32"/>
<rect x="13" y="413" width="5" height="7" fill="#32cd32"/>
<rect x="23" y="355" width="1" height="76" fill="#ff0000"/>
<rect x="21" y="361" width="5" height="59" fill="#ff0000"/>
<rect x="22" y="362" width="3" height="57" fill="#ff4500"/>
<rect x="31" y="333" width="1" height="30" fill="#ff0000"/>
<rect x="29" y="350" width="5" height="13" fill="#ff0000"/>
<rect x="30" y="351" width="3" height="11" fill="#ff4500"/>
<rect x="39" y="342" width="1" height="27" fill="#ff0000"/>
<rect x="37" y="344" width="5" height="9" fill="#ff0000"/>
<rect x="38" y="345" width="3" height="7" fill="#ff4500"/>
<rect x="47" y="317" width="1" height="37" fill="#ff0000"/>
<rect x="45" y="327" width="5" height="18" fill="#ff0000"/>
<rect x="46" y="328" width="3" height="16" fill="#ff4500"/>
<rect x="55" y="314" width="1" height="38" fill="#32cd32"/>
<rect x="53" y="327" width="5" height="11" fill="#32cd32"/>
<rect x="63" y="318" width="1" height="32" fill="#32cd32"/>
<rect x="61" y="336" width="5" height="3" fill="#32cd32"/>
<rect x="71" y="335" width="1" height="70" fill="#32cd32"/>
<rect x="69" y="338" width="5" height="57" fill="#32cd32"/>
<rect x="79" y="370" width="1" height="30" fill="#ff0000"/>
<rect x="77" y="379" width="5" height="16" fill="#ff0000"/>
<rect x="78" y="380" width="3" height="14" fill="#ff4500"/>
<rect x="87" y="354" width="1" height="41" fill="#ff0000"/>
<rect x="85" y="375" width="5" height="13" fill="#ff0000"/>
<rect x="86" y="376" width="3" height="11" fill="#ff4500"/>
<rect x="95" y="309" width="1" height="77" fill="#ff0000"/>
<rect x="93" y="333" width="5" height="43" fill="#ff0000"/>
<rect x="94" y="334" width="3" height="41" fill="#ff4500"/>
<rect x="103" y="279" width="1" height="61" fill="#ff0000"/>
<rect x="101" y="292" width="5" height="42" fill="#ff0000"/>
<rect x="102" y="293" width="3" height="40" fill="#ff4500"/>
<rect x="111" y="292" width="1" height="63" fill="#32cd32"/>
<rect x="109" y="292" width="5" height="55" fill="#32cd32"/>
<rect x="119" y="317" width="1" height="52" fill="#ff0000"/>
<rect x="117" y="333" width="5" height="14" fill="#ff0000"/>
<rect x="118" y="334" width="3" height="12" fill="#ff4500"/>
<rect x="127" y="329" width="1" height="36" fill="#32cd32"/>
<rect x="125" y="334" width="5" height="2" fill="#32cd32"/>
<rect x="135" y="330" width="1" height="35" fill="#ff0000"/>
<rect x="133" y="332" width="5" height="10" fill="#ff0000"/>
<rect x="134" y="333" width="3" height="8" fill="#ff4500"/>
<rect x="143" y="301" width="1" height="38" fill="#ff0000"/>
<rect x="141" y="303" width="5" height="29" fill="#ff0000"/>
<rect x="142" y="304" width="3" height="27" fill="#ff4500"/>
<rect x="151" y="251" width="1" height="54" fill="#ff0000"/>
<rect x="149" y="252" width="5" height="52" fill="#ff0000"/>
<rect x="150" y="253" width="3" height="50" fill="#ff4500"/>
<rect x="159" y="251" width="1" height="78" fill="#32cd32"/>
<rect x="157" y="253" width="5" height="51" fill="#32cd32"/>
<rect x="167" y="269" width="1" height="49" fill="#ff0000"/>
<rect x="165" y="297" width="5" height="7" fill="#ff0000"/>
<rect x="166" y="298" width="3" height="5" fill="#ff4500"/>
<rect x="175" y="281" width="1" height="24" fill="#32cd32"/>
<rect x="173" y="296" width="5" height="2" fill="#32cd32"/>
<rect x="183" y="311" width="1" height="72" fill="#32cd32"/>
<rect x="181" y="321" width="5" height="43" fill="#32cd32"/>
<rect x="191" y="343" width="1" height="37" fill="#ff0000"/>
<rect x="189" y="351" width="5" height="13" fill="#ff0000"/>
<rect x="190" y="352" width="3" height="11" fill="#ff4500"/>
<rect x="199" y="224" width="1" height="142" fill="#ff0000"/>
<rect x="197" y="240" width="5" height="112" fill="#ff0000"/>
<rect x="198" y="241" width="3" height="110" fill="#ff4500"/>
<rect x="207" y="196" width="1" height="61" fill="#ff0000"/>
<rect x="205" y="209" width="5" height="32" fill="#ff0000"/>
<rect x="206" y="210" width="3" height="30" fill="#ff4500"/>
<rect x="215" y="198" width="1" height="124" fill="#32cd32"/>
<rect x="213" y="210" width="5" height="86" fill="#32cd32"/>
<rect x="223" y="282" width="1" height="21" fill="#32cd32"/>
<rect x="221" y="296" width="5" height="7" fill="#32cd32"/>
<rect x="231" y="228" width="1" height="68" fill="#ff0000"/>
<rect x="229" y="230" width="5" height="43" fill="#ff0000"/>
<rect x="230" y="231" width="3" height="41" fill="#ff4500"/>
<rect x="239" y="211" width="1" height="29" fill="#ff0000"/>
<rect x="237" y="216" width="5" height="15" fill="#ff0000"/>
<rect x="238" y="217" width="3" height="13" fill="#ff4500"/>
<rect x="247" y="209" width="1" height="67" fill="#32cd32"/>
<rect x="245" y="216" width="5" height="54" fill="#32cd32"/>
<rect x="255" y="236" width="1" height="42" fill="#ff0000"/>
<rect x="253" y="255" width="5" height="15" fill="#ff0000"/>
<rect x="254" y="256" width="3" height="13" fill="#ff4500"/>
<rect x="263" y="224" width="1" height="43" fill="#ff0000"/>
<rect x="261" y="244" width="5" height="12" fill="#ff0000"/>
<rect x="262" y="245" width="3" height="10" fill="#ff4500"/>
<rect x="271" y="231" width="1" height="14" fill="#ff0000"/>
<rect x="269" y="243" width="5" height="2" fill="#ff0000"/>
<rect x="279" y="220" width="1" height="24" fill="#32cd32"/>
<rect x="277" y="238" width="5" height="3" fill="#32cd32"/>
<rect x="287" y="196" width="1" height="46" fill="#ff0000"/>
<rect x="285" y="196" width="5" height="45" fill="#ff0000"/>
<rect x="286" y="197" width="3" height="43" fill="#ff4500"/>
<rect x="295" y="162" width="1" height="54" fill="#32cd32"/>
<rect x="293" y="196" width="5" height="19" fill="#32cd32"/>
<rect x="303" y="155" width="1" height="61" fill="#ff0000"/>
<rect x="301" y="164" width="5" height="52" fill="#ff0000"/>
<rect x="302" y="165" width="3" height="50" fill="#ff4500"/>
<rect x="311" y="118" width="1" height="52" fill="#ff0000"/>
<rect x="309" y="125" width="5" height="40" fill="#ff0000"/>
<rect x="310" y="126" width="3" height="38" fill="#ff4500"/>
<rect x="319" y="97" width="1" height="32" fill="#ff0000"/>
<rect x="317" y="101" width="5" height="25" fill="#ff0000"/>
<rect x="318" y="102" width="3" height="23" fill="#ff4500"/>
<rect x="327" y="93" width="1" height="25" fill="#32cd32"/>
<rect x="325" y="99" width="5" height="5" fill="#32cd32"/>
<rect x="335" y="86" width="1" height="31" fill="#ff0000"/>
<rect x="333" y="102" width="5" height="2" fill="#ff0000"/>
<rect x="343" y="82" width="1" height="27" fill="#ff0000"/>
<rect x="341" y="90" width="5" height="6" fill="#ff0000"/>
<rect x="342" y="91" width="3" height="4" fill="#ff4500"/>
<rect x="351" y="55" width="1" height="62" fill="#ff0000"/>
<rect x="349" y="69" width="5" height="22" fill="#ff0000"/>
<rect x="350" y="70" width="3" height="20" fill="#ff4500"/>
<rect x="359" y="55" width="1" height="44" fill="#32cd32"/>
<rect x="357" y="69" width="5" height="4" fill="#32cd32"/>
<rect x="367" y="62" width="1" height="25" fill="#ff0000"/>
<rect x="365" y="69" width="5" height="5" fill="#ff0000"/>
<rect x="366" y="70" width="3" height="3" fill="#ff4500"/>
<rect x="375" y="52" width="1" height="37" fill="#ff0000"/>
<rect x="373" y="60" width="5" height="17" fill="#ff0000"/>
<rect x="374" y="61" width="3" height="15" fill="#ff4500"/>
<rect x="383" y="54" width="1" height="26" fill="#32cd32"/>
<rect x="381" y="60" width="5" height="19" fill="#32cd32"/>
<rect x="391" y="53" width="1" height="62" fill="#32cd32"/>
<rect x="389" y="75" width="5" height="16" fill="#32cd32"/>
<rect x="399" y="58" width="1" height="98" fill="#32cd32"/>
<rect x="397" y="90" width="5" height="65" fill="#32cd32"/>
<rect x="407" y="148" width="1" height="89" fill="#32cd32"/>
<rect x="405" y="154" width="5" height="80" fill="#32cd32"/>
<rect x="415" y="211" width="1" height="27" fill="#ff0000"/>
<rect x="413" y="229" width="5" height="5" fill="#ff0000"/>
<rect x="414" y="230" width="3" height="3" fill="#ff4500"/>
<rect x="423" y="234" width="1" height="55" fill="#32cd32"/>
<rect x="421" y="235" width="5" height="47" fill="#32cd32"/>
<rect x="431" y="280" width="1" height="33" fill="#32cd32"/>
<rect x="429" y="281" width="5" height="18" fill="#32cd32"/>
<rect x="439" y="274" width="1" height="96" fill="#32cd32"/>
<rect x="437" y="298" width="5" height="33" fill="#32cd32"/>
<rect x="447" y="317" width="1" height="42" fill="#32cd32"/>
<rect x="445" y="330" width="5" height="7" fill="#32cd32"/>
<rect x="455" y="306" width="1" height="62" fill="#ff0000"/>
<rect x="453" y="321" width="5" height="17" fill="#ff0000"/>
<rect x="454" y="322" width="3" height="15" fill="#ff4500"/>
<rect x="463" y="309" width="1" height="15" fill="#ff0000"/>
<rect x="461" y="309" width="5" height="13" fill="#ff0000"/>
<rect x="462" y="310" width="3" height="11" fill="#ff4500"/>
<rect x="471" y="292" width="1" height="30" fill="#ff0000"/>
<rect x="469" y="314" width="5" height="4" fill="#ff0000"/>
<rect x="470" y="315" width="3" height="2" fill="#ff4500"/>
<rect x="479" y="300" width="1" height="40" fill="#32cd32"/>
<rect x="477" y="314" width="5" height="15" fill="#32cd32"/>
<rect x="487" y="294" width="1" height="40" fill="#ff0000"/>
<rect x="485" y="324" width="5" height="5" fill="#ff0000"/>
<rect x="486" y="325" width="3" height="3" fill="#ff4500"/>
<rect x="495" y="278" width="1" height="54" fill="#ff0000"/>
<rect x="493" y="294" width="5" height="31" fill="#ff0000"/>
<rect x="494" y="295" width="3" height="29" fill="#ff4500"/>
<rect x="503" y="287" width="1" height="51" fill="#32cd32"/>
<rect x="501" y="294" width="5" height="30" fill="#32cd32"/>
<rect x="511" y="307" width="1" height="24" fill="#ff0000"/>
<rect x="509" y="310" width="5" height="14" fill="#ff0000"/>
<rect x="510" y="311" width="3" height="12" fill="#ff4500"/>
<rect x="519" y="279" width="1" height="43" fill="#ff0000"/>
<rect x="517" y="297" width="5" height="20" fill="#ff0000"/>
<rect x="518" y="298" width="3" height="18" fill="#ff4500"/>
<rect x="527" y="255" width="1" height="45" fill="#ff0000"/>
<rect x="525" y="266" width="5" height="32" fill="#ff0000"/>
<rect x="526" y="267" width="3" height="30" fill="#ff4500"/>
<rect x="535" y="245" width="1" height="43" fill="#ff0000"/>
<rect x="533" y="254" width="5" height="13" fill="#ff0000"/>
<rect x="534" y="255" width="3" height="11" fill="#ff4500"/>
<rect x="543" y="241" width="1" height="31" fill="#32cd32"/>
<rect x="541" y="254" width="5" height="11" fill="#32cd32"/>
<rect x="551" y="249" width="1" height="83" fill="#32cd32"/>
<rect x="549" y="265" width="5" height="52" fill="#32cd32"/>
<rect x="559" y="311" width="1" height="27" fill="#32cd32"/>
<rect x="557" y="316" width="5" height="22" fill="#32cd32"/>
<rect x="567" y="301" width="1" height="54" fill="#ff0000"/>
<rect x="565" y="319" width="5" height="27" fill="#ff0000"/>
<rect x="566" y="320" width="3" height="25" fill="#ff4500"/>
<rect x="575" y="304" width="1" height="26" fill="#ff0000"/>
<rect x="573" y="309" width="5" height="10" fill="#ff0000"/>
<rect x="574" y="310" width="3" height="8" fill="#ff4500"/>
<rect x="583" y="300" width="1" height="62" fill="#32cd32"/>
<rect x="581" y="309" width="5" height="47" fill="#32cd32"/>
<rect x="591" y="348" width="1" height="62" fill="#32cd32"/>
<rect x="589" y="354" width="5" height="46" fill="#32cd32"/>
<rect x="599" y="383" width="1" height="50" fill="#32cd32"/>
<rect x="597" y="399" width="5" height="23" fill="#32cd32"/>
<rect x="607" y="418" width="1" height="25" fill="#32cd32"/>
<rect x="605" y="421" width="5" height="8" fill="#32cd32"/>
<rect x="615" y="390" width="1" height="42" fill="#ff0000"/>
<rect x="613" y="406" width="5" height="24" fill="#ff0000"/>
<rect x="614" y="407" width="3" height="22" fill="#ff4500"/>
<rect x="623" y="386" width="1" height="35" fill="#ff0000"/>
<rect x="621" y="401" width="5" height="6" fill="#ff0000"/>
<rect x="622" y="402" width="3" height="4" fill="#ff4500"/>
<rect x="631" y="351" width="1" height="56" fill="#ff0000"/>
<rect x="629" y="372" width="5" height="30" fill="#ff0000"/>
<rect x="630" y="373" width="3" height="28" fill="#ff4500"/>
<rect x="639" y="303" width="1" height="70" fill="#ff0000"/>
<rect x="637" y="314" width="5" height="58" fill="#ff0000"/>
<rect x="638" y="315" width="3" height="56" fill="#ff4500"/>
<rect x="647" y="271" width="1" height="65" fill="#ff0000"/>
<rect x="645" y="308" width="5" height="8" fill="#ff0000"/>
<rect x="646" y="309" width="3" height="6" fill="#ff4500"/>
<rect x="655" y="293" width="1" height="23" fill="#32cd32"/>
<rect x="653" y="308" width="5" height="4" fill="#32cd32"/>
<rect x="663" y="281" width="1" height="35" fill="#ff0000"/>
<rect x="661" y="283" width="5" height="31" fill="#ff0000"/>
<rect x="662" y="284" width="3" height="29" fill="#ff4500"/>
<rect x="671" y="278" width="1" height="50" fill="#32cd32"/>
<rect x="669" y="283" width="5" height="36" fill="#32cd32"/>
<rect x="679" y="314" width="1" height="45" fill="#32cd32"/>
<rect x="677" y="318" width="5" height="17" fill="#32cd32"/>
<rect x="687" y="264" width="1" height="79" fill="#ff0000"/>
<rect x="685" y="279" width="5" height="56" fill="#ff0000"/>
<rect x="686" y="280" width="3" height="54" fill="#ff4500"/>
<rect x="695" y="275" width="1" height="46" fill="#32cd32"/>
<rect x="693" y="278" width="5" height="27" fill="#32cd32"/>
<rect x="703" y="298" width="1" height="29" fill="#32cd32"/>
<rect x="701" y="303" width="5" height="21" fill="#32cd32"/>
<rect x="711" y="321" width="1" height="19" fill="#32cd32"/>
<rect x="709" y="323" width="5" height="9" fill="#32cd32"/>
<rect x="719" y="303" width="1" height="35" fill="#ff0000"/>
<rect x="717" y="318" width="5" height="14" fill="#ff0000"/>
<rect x="718" y="319" width="3" height="12" fill="#ff4500"/>
<rect x="727" y="315" width="1" height="63" fill="#32cd32"/>
<rect x="725" y="318" width="5" height="57" fill="#32cd32"/>
<rect x="735" y="352" width="1" height="37" fill="#ff0000"/>
<rect x="733" y="367" width="5" height="8" fill="#ff0000"/>
<rect x="734" y="368" width="3" height="6" fill="#ff4500"/>
<rect x="743" y="328" width="1" height="51" fill="#ff0000"/>
<rect x="741" y="365" width="5" height="2" fill="#ff0000"/>
<rect x="751" y="360" width="1" height="40" fill="#32cd32"/>
<rect x="749" y="365" width="5" height="32" fill="#32cd32"/>
<rect x="759" y="366" width="1" height="48" fill="#ff0000"/>
<rect x="757" y="373" width="5" height="27" fill="#ff0000"/>
<rect x="758" y="374" width="3" height="25" fill="#ff4500"/>
<rect x="767" y="332" width="1" height="44" fill="#ff0000"/>
<rect x="765" y="358" width="5" height="15" fill="#ff0000"/>
<rect x="766" y="359" width="3" height="13" fill="#ff4500"/>
<rect x="775" y="356" width="1" height="54" fill="#32cd32"/>
<rect x="773" y="358" width="5" height="35" fill="#32cd32"/>
<rect x="783" y="351" width="1" height="47" fill="#ff0000"/>
<rect x="781" y="378" width="5" height="16" fill="#ff0000"/>
<rect x="782" y="379" width="3" height="14" fill="#ff4500"/>
<rect x="791" y="321" width="1" height="82" fill="#ff0000"/>
<rect x="789" y="327" width="5" height="52" fill="#ff0000"/>
<rect x="790" y="328" width="3" height="50" fill="#ff4500"/>
<rect x="799" y="288" width="1" height="43" fill="#ff0000"/>
<rect x="797" y="290" width="5" height="38" fill="#ff0000"/>
<rect x="798" y="291" width="3" height="36" fill="#ff4500"/>
<rect x="807" y="273" width="1" height="34" fill="#ff0000"/>
<rect x="805" y="276" width="5" height="30" fill="#ff0000"/>
<rect x="806" y="277" width="3" height="28" fill="#ff4500"/>
<rect x="815" y="251" width="1" height="39" fill="#ff0000"/>
<rect x="813" y="261" width="5" height="16" fill="#ff0000"/>
<rect x="814" y="262" width="3" height="14" fill="#ff4500"/>
<rect x="823" y="188" width="1" height="82" fill="#ff0000"/>
<rect x="821" y="211" width="5" height="51" fill="#ff0000"/>
<rect x="822" y="212" width="3" height="49" fill="#ff4500"/>
<rect x="831" y="193" width="1" height="24" fill="#ff0000"/>
<rect x="829" y="202" width="5" height="10" fill="#ff0000"/>
<rect x="830" y="203" width="3" height="8" fill="#ff4500"/>
<rect x="839" y="181" width="1" height="50" fill="#ff0000"/>
<rect x="837" y="200" width="5" height="4" fill="#ff0000"/>
<rect x="838" y="201" width="3" height="2" fill="#ff4500"/>
<rect x="847" y="199" width="1" height="26" fill="#32cd32"/>
<rect x="845" y="200" width="5" height="19" fill="#32cd32"/>
<rect x="855" y="199" width="1" height="30" fill="#32cd32"/>
<rect x="853" y="212" width="5" height="2" fill="#32cd32"/>
<rect x="863" y="210" width="1" height="36" fill="#32cd32"/>
<rect x="861" y="213" width="5" height="26" fill="#32cd32"/>
<rect x="871" y="236" width="1" height="48" fill="#32cd32"/>
<rect x="869" y="238" width="5" height="40" fill="#32cd32"/>
<rect x="879" y="260" width="1" height="40" fill="#32cd32"/>
<rect x="877" y="279" width="5" height="2" fill="#32cd32"/>
<rect x="887" y="244" width="1" height="54" fill="#ff0000"/>
<rect x="885" y="267" width="5" height="14" fill="#ff0000"/>
<rect x="886" y="268" width="3" height="12" fill="#ff4500"/>
<rect x="895" y="259" width="1" height="14" fill="#ff0000"/>
<rect x="893" y="261" width="5" height="7" fill="#ff0000"/>
<rect x="894" y="262" width="3" height="5" fill="#ff4500"/>
<rect x="903" y="251" width="1" height="39" fill="#ff0000"/>
<rect x="901" y="262" width="5" height="2" fill="#ff0000"/>
<rect x="911" y="248" width="1" height="76" fill="#32cd32"/>
<rect x="909" y="262" width="5" height="33" fill="#32cd32"/>
<rect x="919" y="273" width="1" height="24" fill="#ff0000"/>
<rect x="917" y="274" width="5" height="20" fill="#ff0000"/>
<rect x="918" y="275" width="3" height="18" fill="#ff4500"/>
</g>
<g shape-rendering="crispEdges" opacity="0.93">
<rect x="716" y="172" width="313" height="4" fill="#f92c2c"/>
<rect x="718" y="315" width="309" height="4" fill="#97cc00"/>
<rect x="728" y="404" width="312" height="4" fill="#2f8ce2"/>
</g>
<path d="M372 482h5v1h-5zM348 483h24v1h-24zM377 483h3v1h-3zM316 484h32v1h-32zM380 484h2v1h-2zM44 485h8v1h-8zM310 485h6v1h-6zM382 485h6v1h-6zM836 485h5v1h-5zM36 486h8v1h-8zM52 486h8v1h-8zM101 486h2v1h-2zM149 486h2v1h-2zM152 486h2v1h-2zM206 486h2v1h-2zM306 486h4v1h-4zM388 486h4v1h-4zM823 486h13v1h-13zM841 486h3v1h-3zM23 487h13v1h-13zM60 487h4v1h-4zM99 487h2v1h-2zM147 487h2v1h-2zM202 487h4v1h-4zM303 487h3v1h-3zM821 487h2v1h-2zM844 487h2v1h-2zM852 487h5v1h-5zM97 488h2v1h-2zM106 488h2v1h-2zM145 488h2v1h-2zM199 488h3v1h-3zM301 488h2v1h-2zM819 488h2v1h-2zM846 488h6v1h-6zM857 488h3v1h-3zM20 489h2v1h-2zM95 489h2v1h-2zM142 489h3v1h-3zM156 489h2v1h-2zM238 489h2v1h-2zM286 489h4v1h-4zM299 489h2v1h-2zM817 489h2v1h-2zM860 489h2v1h-2zM93 490h2v1h-2zM138 490h4v1h-4zM234 490h4v1h-4zM240 490h2v1h-2zM284 490h2v1h-2zM290 490h4v1h-4zM297 490h2v1h-2zM812 490h5v1h-5zM862 490h2v1h-2zM91 491h2v1h-2zM116 491h8v1h-8zM132 491h6v1h-6zM159 491h17v1h-17zM231 491h3v1h-3zM242 491h2v1h-2zM281 491h3v1h-3zM294 491h3v1h-3zM804 491h8v1h-8zM864 491h2v1h-2zM16 492h2v1h-2zM89 492h2v1h-2zM111 492h5v1h-5zM124 492h8v1h-8zM229 492h2v1h-2zM260 492h21v1h-21zM662 492h3v1h-3zM799 492h5v1h-5zM7 493h9v1h-9zM78 493h11v1h-11zM227 493h2v1h-2zM245 493h2v1h-2zM252 493h8v1h-8zM660 493h2v1h-2zM665 493h2v1h-2zM687 493h3v1h-3zM797 493h2v1h-2zM74 494h4v1h-4zM178 494h2v1h-2zM215 494h5v1h-5zM225 494h2v1h-2zM247 494h5v1h-5zM657 494h3v1h-3zM667 494h2v1h-2zM685 494h2v1h-2zM690 494h4v1h-4zM795 494h2v1h-2zM868 494h2v1h-2zM886 494h19v1h-19zM71 495h3v1h-3zM220 495h5v1h-5zM644 495h13v1h-13zM669 495h2v1h-2zM694 495h4v1h-4zM793 495h2v1h-2zM882 495h4v1h-4zM905 495h2v1h-2zM532 496h8v1h-8zM639 496h5v1h-5zM671 496h3v1h-3zM682 496h2v1h-2zM698 496h4v1h-4zM718 496h2v1h-2zM791 496h2v1h-2zM871 496h11v1h-11zM907 496h2v1h-2zM916 496h2v1h-2zM188 497h4v1h-4zM527 497h5v1h-5zM540 497h4v1h-4zM674 497h4v1h-4zM680 497h2v1h-2zM702 497h6v1h-6zM714 497h4v1h-4zM720 497h2v1h-2zM789 497h2v1h-2zM909 497h2v1h-2zM913 497h3v1h-3zM183 498h5v1h-5zM525 498h2v1h-2zM544 498h2v1h-2zM636 498h2v1h-2zM678 498h2v1h-2zM708 498h6v1h-6zM787 498h2v1h-2zM911 498h2v1h-2zM523 499h2v1h-2zM546 499h2v1h-2zM764 499h5v1h-5zM785 499h2v1h-2zM521 500h2v1h-2zM574 500h3v1h-3zM724 500h2v1h-2zM758 500h6v1h-6zM769 500h3v1h-3zM782 500h3v1h-3zM518 501h3v1h-3zM549 501h2v1h-2zM570 501h4v1h-4zM577 501h2v1h-2zM632 501h2v1h-2zM732 501h14v1h-14zM756 501h2v1h-2zM772 501h2v1h-2zM778 501h4v1h-4zM407 502h10v1h-10zM495 502h3v1h-3zM514 502h4v1h-4zM551 502h3v1h-3zM566 502h4v1h-4zM579 502h2v1h-2zM630 502h2v1h-2zM727 502h5v1h-5zM746 502h4v1h-4zM753 502h3v1h-3zM774 502h4v1h-4zM417 503h3v1h-3zM493 503h2v1h-2zM498 503h4v1h-4zM508 503h6v1h-6zM554 503h4v1h-4zM562 503h4v1h-4zM581 503h2v1h-2zM628 503h2v1h-2zM750 503h3v1h-3zM420 504h2v1h-2zM491 504h2v1h-2zM502 504h6v1h-6zM558 504h4v1h-4zM583 504h2v1h-2zM625 504h3v1h-3zM422 505h6v1h-6zM462 505h12v1h-12zM489 505h2v1h-2zM585 505h2v1h-2zM620 505h5v1h-5zM428 506h6v1h-6zM458 506h4v1h-4zM474 506h4v1h-4zM484 506h5v1h-5zM587 506h2v1h-2zM614 506h6v1h-6zM434 507h4v1h-4zM454 507h4v1h-4zM478 507h6v1h-6zM589 507h2v1h-2zM612 507h2v1h-2zM438 508h6v1h-6zM450 508h4v1h-4zM591 508h5v1h-5zM609 508h3v1h-3zM444 509h6v1h-6zM596 509h13v1h-13zM18 491h1v1h-1zM19 490h1v1h-1zM22 488h1v1h-1zM64 488h1v1h-1zM65 489h1v1h-1zM66 490h1v1h-1zM67 491h1v1h-1zM68 492h1v1h-1zM69 493h1v1h-1zM70 494h1v1h-1zM103 485h1v1h-1zM104 486h1v1h-1zM105 487h1v1h-1zM108 489h1v1h-1zM109 490h1v1h-1zM110 491h1v1h-1zM151 485h1v1h-1zM154 487h1v1h-1zM155 488h1v1h-1zM158 490h1v1h-1zM176 492h1v1h-1zM177 493h1v1h-1zM180 495h1v1h-1zM181 496h1v1h-1zM182 497h1v1h-1zM192 496h1v1h-1zM193 495h1v1h-1zM194 494h1v1h-1zM195 492h1v2h-1zM196 491h1v1h-1zM197 490h1v1h-1zM198 489h1v1h-1zM208 487h1v1h-1zM209 488h1v1h-1zM210 489h1v1h-1zM211 490h1v1h-1zM212 491h1v1h-1zM213 492h1v1h-1zM214 493h1v1h-1zM244 492h1v1h-1zM392 487h1v1h-1zM393 488h1v1h-1zM394 489h1v1h-1zM395 490h1v1h-1zM396 491h1v1h-1zM397 492h1v1h-1zM398 493h1v1h-1zM399 494h1v1h-1zM400 495h1v1h-1zM401 496h1v1h-1zM402 497h1v1h-1zM403 498h1v1h-1zM404 499h1v1h-1zM405 500h1v1h-1zM406 501h1v1h-1zM548 500h1v1h-1zM634 500h1v1h-1zM635 499h1v1h-1zM638 497h1v1h-1zM684 495h1v1h-1zM722 498h1v1h-1zM723 499h1v1h-1zM726 501h1v1h-1zM866 492h1v1h-1zM867 493h1v1h-1zM870 495h1v1h-1zM918 495h1v1h-1z" fill="#1e90ff" shape-rendering="crispEdges"/>
<g shape-rendering="crispEdges">
<path d="M8 484.5H1168" stroke="#c0c0c0" stroke-width="1" stroke-dasharray="3 3" fill="none"/>
<path d="M8 509.5H1168" stroke="#c0c0c0" stroke-width="1" stroke-dasharray="3 3" fill="none"/>
</g>
<g clip-path="url(#cd)" shape-rendering="crispEdges">
<rect x="6" y="558" width="3" height="12" fill="#c0c0c0"/>
<rect x="14" y="560" width="3" height="10" fill="#c0c0c0"/>
<rect x="22" y="559" width="3" height="11" fill="#c0c0c0"/>
<rect x="30" y="556" width="3" height="14" fill="#c0c0c0"/>
<rect x="38" y="555" width="3" height="15" fill="#c0c0c0"/>
<rect x="46" y="553" width="3" height="17" fill="#c0c0c0"/>
<rect x="54" y="552" width="3" height="18" fill="#c0c0c0"/>
<rect x="62" y="552" width="3" height="18" fill="#c0c0c0"/>
<rect x="70" y="554" width="3" height="16" fill="#c0c0c0"/>
<rect x="78" y="556" width="3" height="14" fill="#c0c0c0"/>
<rect x="86" y="557" width="3" height="13" fill="#c0c0c0"/>
<rect x="94" y="556" width="3" height="14" fill="#c0c0c0"/>
<rect x="102" y="555" width="3" height="15" fill="#c0c0c0"/>
<rect x="110" y="555" width="3" height="15" fill="#c0c0c0"/>
<rect x="118" y="555" width="3" height="15" fill="#c0c0c0"/>
<rect x="126" y="556" width="3" height="14" fill="#c0c0c0"/>
<rect x="134" y="556" width="3" height="14" fill="#c0c0c0"/>
<rect x="142" y="556" width="3" height="14" fill="#c0c0c0"/>
<rect x="150" y="552" width="3" height="18" fill="#c0c0c0"/>
<rect x="158" y="552" width="3" height="18" fill="#c0c0c0"/>
<rect x="166" y="552" width="3" height="18" fill="#c0c0c0"/>
<rect x="174" y="553" width="3" height="17" fill="#c0c0c0"/>
<rect x="182" y="556" width="3" height="14" fill="#c0c0c0"/>
<rect x="190" y="558" width="3" height="12" fill="#c0c0c0"/>
<rect x="198" y="555" width="3" height="15" fill="#c0c0c0"/>
<rect x="206" y="552" width="3" height="18" fill="#c0c0c0"/>
<rect x="214" y="553" width="3" height="17" fill="#c0c0c0"/>
<rect x="222" y="554" width="3" height="16" fill="#c0c0c0"/>
<rect x="230" y="553" width="3" height="17" fill="#c0c0c0"/>
<rect x="238" y="551" width="3" height="19" fill="#c0c0c0"/>
<rect x="246" y="552" width="3" height="18" fill="#c0c0c0"/>
<rect x="254" y="552" width="3" height="18" fill="#c0c0c0"/>
<rect x="262" y="553" width="3" height="17" fill="#c0c0c0"/>
<rect x="270" y="554" width="3" height="16" fill="#c0c0c0"/>
<rect x="278" y="553" width="3" height="17" fill="#c0c0c0"/>
<rect x="286" y="551" width="3" height="19" fill="#c0c0c0"/>
<rect x="294" y="551" width="3" height="19" fill="#c0c0c0"/>
<rect x="302" y="549" width="3" height="21" fill="#c0c0c0"/>
<rect x="310" y="546" width="3" height="24" fill="#c0c0c0"/>
<rect x="318" y="543" width="3" height="27" fill="#c0c0c0"/>
<rect x="326" y="541" width="3" height="29" fill="#c0c0c0"/>
<rect x="334" y="539" width="3" height="31" fill="#c0c0c0"/>
<rect x="342" y="538" width="3" height="32" fill="#c0c0c0"/>
<rect x="350" y="537" width="3" height="33" fill="#c0c0c0"/>
<rect x="358" y="536" width="3" height="34" fill="#c0c0c0"/>
<rect x="366" y="536" width="3" height="34" fill="#c0c0c0"/>
<rect x="374" y="535" width="3" height="35" fill="#c0c0c0"/>
<rect x="382" y="536" width="3" height="34" fill="#c0c0c0"/>
<rect x="390" y="537" width="3" height="33" fill="#c0c0c0"/>
<rect x="398" y="543" width="3" height="27" fill="#c0c0c0"/>
<rect x="406" y="550" width="3" height="20" fill="#c0c0c0"/>
<rect x="414" y="555" width="3" height="15" fill="#c0c0c0"/>
<rect x="422" y="562" width="3" height="8" fill="#c0c0c0"/>
<rect x="430" y="568" width="3" height="2" fill="#c0c0c0"/>
<rect x="438" y="570" width="3" height="6" fill="#c0c0c0"/>
<rect x="446" y="570" width="3" height="11" fill="#c0c0c0"/>
<rect x="454" y="570" width="3" height="14" fill="#c0c0c0"/>
<rect x="462" y="570" width="3" height="16" fill="#c0c0c0"/>
<rect x="470" y="570" width="3" height="17" fill="#c0c0c0"/>
<rect x="478" y="570" width="3" height="18" fill="#c0c0c0"/>
<rect x="486" y="570" width="3" height="20" fill="#c0c0c0"/>
<rect x="494" y="570" width="3" height="18" fill="#c0c0c0"/>
<rect x="502" y="570" width="3" height="18" fill="#c0c0c0"/>
<rect x="510" y="570" width="3" height="18" fill="#c0c0c0"/>
<rect x="518" y="570" width="3" height="17" fill="#c0c0c0"/>
<rect x="526" y="570" width="3" height="14" fill="#c0c0c0"/>
<rect x="534" y="570" width="3" height="13" fill="#c0c0c0"/>
<rect x="542" y="570" width="3" height="11" fill="#c0c0c0"/>
<rect x="550" y="570" width="3" height="12" fill="#c0c0c0"/>
<rect x="558" y="570" width="3" height="12" fill="#c0c0c0"/>
<rect x="566" y="570" width="3" height="12" fill="#c0c0c0"/>
<rect x="574" y="570" width="3" height="13" fill="#c0c0c0"/>
<rect x="582" y="570" width="3" height="13" fill="#c0c0c0"/>
<rect x="590" y="570" width="3" height="17" fill="#c0c0c0"/>
<rect x="598" y="570" width="3" height="19" fill="#c0c0c0"/>
<rect x="606" y="570" width="3" height="23" fill="#c0c0c0"/>
<rect x="614" y="570" width="3" height="24" fill="#c0c0c0"/>
<rect x="622" y="570" width="3" height="24" fill="#c0c0c0"/>
<rect x="630" y="570" width="3" height="22" fill="#c0c0c0"/>
<rect x="638" y="570" width="3" height="18" fill="#c0c0c0"/>
<rect x="646" y="570" width="3" height="14" fill="#c0c0c0"/>
<rect x="654" y="570" width="3" height="12" fill="#c0c0c0"/>
<rect x="662" y="570" width="3" height="9" fill="#c0c0c0"/>
<rect x="670" y="570" width="3" height="7" fill="#c0c0c0"/>
<rect x="678" y="570" width="3" height="7" fill="#c0c0c0"/>
<rect x="686" y="570" width="3" height="4" fill="#c0c0c0"/>
<rect x="694" y="570" width="3" height="2" fill="#c0c0c0"/>
<rect x="702" y="570" width="3" height="2" fill="#c0c0c0"/>
<rect x="710" y="570" width="3" height="2" fill="#c0c0c0"/>
<rect x="718" y="570" width="3" height="2" fill="#c0c0c0"/>
<rect x="726" y="570" width="3" height="4" fill="#c0c0c0"/>
<rect x="734" y="570" width="3" height="6" fill="#c0c0c0"/>
<rect x="742" y="570" width="3" height="7" fill="#c0c0c0"/>
<rect x="750" y="570" width="3" height="9" fill="#c0c0c0"/>
<rect x="758" y="570" width="3" height="9" fill="#c0c0c0"/>
<rect x="766" y="570" width="3" height="9" fill="#c0c0c0"/>
<rect x="774" y="570" width="3" height="10" fill="#c0c0c0"/>
<rect x="782" y="570" width="3" height="10" fill="#c0c0c0"/>
<rect x="790" y="570" width="3" height="7" fill="#c0c0c0"/>
<rect x="798" y="570" width="3" height="4" fill="#c0c0c0"/>
<rect x="806" y="570" width="3" height="1" fill="#c0c0c0"/>
<rect x="814" y="567" width="3" height="3" fill="#c0c0c0"/>
<rect x="822" y="562" width="3" height="8" fill="#c0c0c0"/>
<rect x="830" y="558" width="3" height="12" fill="#c0c0c0"/>
<rect x="838" y="555" width="3" height="15" fill="#c0c0c0"/>
<rect x="846" y="554" width="3" height="16" fill="#c0c0c0"/>
<rect x="854" y="553" width="3" height="17" fill="#c0c0c0"/>
<rect x="862" y="553" width="3" height="17" fill="#c0c0c0"/>
<rect x="870" y="555" width="3" height="15" fill="#c0c0c0"/>
<rect x="878" y="557" width="3" height="13" fill="#c0c0c0"/>
<rect x="886" y="558" width="3" height="12" fill="#c0c0c0"/>
<rect x="894" y="559" width="3" height="11" fill="#c0c0c0"/>
<rect x="902" y="560" width="3" height="10" fill="#c0c0c0"/>
<rect x="910" y="562" width="3" height="8" fill="#c0c0c0"/>
<rect x="918" y="563" width="3" height="7" fill="#c0c0c0"/>
</g>
<path d="M388 537h14v1h-14zM380 538h8v1h-8zM402 538h4v1h-4zM372 539h8v1h-8zM406 539h4v1h-4zM366 540h6v1h-6zM410 540h4v1h-4zM362 541h4v1h-4zM414 541h4v1h-4zM358 542h4v1h-4zM418 542h4v1h-4zM354 543h4v1h-4zM422 543h3v1h-3zM350 544h4v1h-4zM425 544h3v1h-3zM346 545h4v1h-4zM428 545h2v1h-2zM340 546h6v1h-6zM430 546h3v1h-3zM334 547h6v1h-6zM433 547h2v1h-2zM330 548h4v1h-4zM435 548h2v1h-2zM324 549h6v1h-6zM437 549h2v1h-2zM316 550h8v1h-8zM300 551h16v1h-16zM440 551h2v1h-2zM284 552h16v1h-16zM442 552h2v1h-2zM252 553h32v1h-32zM92 554h32v1h-32zM148 554h104v1h-104zM445 554h2v1h-2zM68 555h24v1h-24zM124 555h24v1h-24zM60 556h8v1h-8zM884 556h24v1h-24zM44 557h16v1h-16zM878 557h6v1h-6zM908 557h8v1h-8zM7 558h37v1h-37zM450 558h2v1h-2zM874 558h4v1h-4zM916 558h3v1h-3zM870 559h4v1h-4zM866 560h4v1h-4zM862 561h4v1h-4zM858 562h4v1h-4zM456 563h2v1h-2zM854 563h4v1h-4zM458 564h2v1h-2zM852 564h2v1h-2zM849 565h3v1h-3zM461 566h2v1h-2zM846 566h3v1h-3zM844 567h2v1h-2zM464 568h2v1h-2zM841 568h3v1h-3zM466 569h2v1h-2zM838 569h3v1h-3zM834 570h4v1h-4zM469 571h2v1h-2zM830 571h4v1h-4zM471 572h2v1h-2zM828 572h2v1h-2zM473 573h2v1h-2zM732 573h16v1h-16zM825 573h3v1h-3zM475 574h2v1h-2zM724 574h8v1h-8zM748 574h16v1h-16zM820 574h5v1h-5zM477 575h2v1h-2zM716 575h8v1h-8zM764 575h8v1h-8zM812 575h8v1h-8zM479 576h2v1h-2zM710 576h6v1h-6zM772 576h16v1h-16zM804 576h8v1h-8zM481 577h2v1h-2zM706 577h4v1h-4zM788 577h16v1h-16zM483 578h2v1h-2zM702 578h4v1h-4zM485 579h2v1h-2zM698 579h4v1h-4zM487 580h3v1h-3zM694 580h4v1h-4zM490 581h4v1h-4zM690 581h4v1h-4zM494 582h3v1h-3zM686 582h4v1h-4zM497 583h3v1h-3zM564 583h40v1h-40zM682 583h4v1h-4zM500 584h2v1h-2zM556 584h8v1h-8zM604 584h6v1h-6zM678 584h4v1h-4zM502 585h6v1h-6zM548 585h8v1h-8zM610 585h4v1h-4zM674 585h4v1h-4zM508 586h8v1h-8zM540 586h8v1h-8zM614 586h6v1h-6zM668 586h6v1h-6zM516 587h24v1h-24zM620 587h8v1h-8zM660 587h8v1h-8zM628 588h16v1h-16zM652 588h8v1h-8zM644 589h8v1h-8zM439 550h1v1h-1zM444 553h1v1h-1zM447 555h1v1h-1zM448 556h1v1h-1zM449 557h1v1h-1zM452 559h1v1h-1zM453 560h1v1h-1zM454 561h1v1h-1zM455 562h1v1h-1zM460 565h1v1h-1zM463 567h1v1h-1zM468 570h1v1h-1z" fill="#ff0000" shape-rendering="crispEdges"/>
<g shape-rendering="crispEdges">
<rect x="7" y="597" width="1" height="3" fill="#000"/>
<rect x="71" y="597" width="1" height="3" fill="#000"/>
<rect x="135" y="597" width="1" height="3" fill="#000"/>
<rect x="199" y="597" width="1" height="3" fill="#000"/>
<rect x="263" y="597" width="1" height="3" fill="#000"/>
<rect x="327" y="597" width="1" height="3" fill="#000"/>
<rect x="391" y="597" width="1" height="3" fill="#000"/>
<rect x="455" y="597" width="1" height="3" fill="#000"/>
<rect x="519" y="597" width="1" height="3" fill="#000"/>
<rect x="583" y="597" width="1" height="3" fill="#000"/>
<rect x="647" y="597" width="1" height="3" fill="#000"/>
<rect x="711" y="597" width="1" height="3" fill="#000"/>
<rect x="775" y="597" width="1" height="3" fill="#000"/>
<rect x="839" y="597" width="1" height="3" fill="#000"/>
<rect x="903" y="597" width="1" height="3" fill="#000"/>
<rect x="1170" y="465" width="1" height="1" fill="#000"/>
<rect x="1170" y="528" width="1" height="1" fill="#000"/>
<rect x="1170" y="533" width="1" height="1" fill="#000"/>
<rect x="1170" y="595" width="1" height="1" fill="#000"/>
<rect x="1170" y="570" width="1" height="1" fill="#000"/>
<rect x="1171" y="269" width="41" height="11" fill="#000"/>
</g>
<text x="1174.6" y="66" font-size="10.1" fill="#000" stroke="#000" stroke-width="0.12" textLength="33" lengthAdjust="spacingAndGlyphs" text-rendering="geometricPrecision">1.36480</text>
<text x="1174.6" y="99" font-size="10.1" fill="#000" stroke="#000" stroke-width="0.12" textLength="33" lengthAdjust="spacingAndGlyphs" text-rendering="geometricPrecision">1.35985</text>
<text x="1174.6" y="132" font-size="10.1" fill="#000" stroke="#000" stroke-width="0.12" textLength="33" lengthAdjust="spacingAndGlyphs" text-rendering="geometricPrecision">1.35475</text>
<text x="1174.6" y="165" font-size="10.1" fill="#000" stroke="#000" stroke-width="0.12" textLength="33" lengthAdjust="spacingAndGlyphs" text-rendering="geometricPrecision">1.34965</text>
<text x="1174.6" y="198" font-size="10.1" fill="#000" stroke="#000" stroke-width="0.12" textLength="33" lengthAdjust="spacingAndGlyphs" text-rendering="geometricPrecision">1.34470</text>
<text x="1174.6" y="231" font-size="10.1" fill="#000" stroke="#000" stroke-width="0.12" textLength="33" lengthAdjust="spacingAndGlyphs" text-rendering="geometricPrecision">1.33960</text>
<text x="1174.6" y="264" font-size="10.1" fill="#000" stroke="#000" stroke-width="0.12" textLength="33" lengthAdjust="spacingAndGlyphs" text-rendering="geometricPrecision">1.33450</text>
<text x="1174.6" y="297" font-size="10.1" fill="#000" stroke="#000" stroke-width="0.12" textLength="33" lengthAdjust="spacingAndGlyphs" text-rendering="geometricPrecision">1.32955</text>
<text x="1174.6" y="330" font-size="10.1" fill="#000" stroke="#000" stroke-width="0.12" textLength="33" lengthAdjust="spacingAndGlyphs" text-rendering="geometricPrecision">1.32445</text>
<text x="1174.6" y="363" font-size="10.1" fill="#000" stroke="#000" stroke-width="0.12" textLength="33" lengthAdjust="spacingAndGlyphs" text-rendering="geometricPrecision">1.31935</text>
<text x="1174.6" y="396" font-size="10.1" fill="#000" stroke="#000" stroke-width="0.12" textLength="33" lengthAdjust="spacingAndGlyphs" text-rendering="geometricPrecision">1.31440</text>
<text x="1174.6" y="429" font-size="10.1" fill="#000" stroke="#000" stroke-width="0.12" textLength="33" lengthAdjust="spacingAndGlyphs" text-rendering="geometricPrecision">1.30930</text>
<text x="1174.6" y="462" font-size="10.1" fill="#000" stroke="#000" stroke-width="0.12" textLength="33" lengthAdjust="spacingAndGlyphs" text-rendering="geometricPrecision">1.30435</text>
<text x="1174.6" y="278.4" font-size="10.1" fill="#fff" stroke="#fff" stroke-width="0.2" textLength="33" lengthAdjust="spacingAndGlyphs" text-rendering="geometricPrecision">1.33237</text>
<text x="1173" y="474" font-size="10.1" fill="#000" stroke="#000" stroke-width="0.12" textLength="15" lengthAdjust="spacingAndGlyphs" text-rendering="geometricPrecision">100</text>
<text x="1172" y="488" font-size="10.1" fill="#000" stroke="#000" stroke-width="0.12" textLength="10" lengthAdjust="spacingAndGlyphs" text-rendering="geometricPrecision">70</text>
<text x="1172.5" y="513" font-size="10.1" fill="#000" stroke="#000" stroke-width="0.12" textLength="10" lengthAdjust="spacingAndGlyphs" text-rendering="geometricPrecision">30</text>
<text x="1172.5" y="526" font-size="10.1" fill="#000" stroke="#000" stroke-width="0.12" textLength="5" lengthAdjust="spacingAndGlyphs" text-rendering="geometricPrecision">0</text>
<text x="1172.5" y="542" font-size="10.1" fill="#000" stroke="#000" stroke-width="0.12" textLength="38" lengthAdjust="spacingAndGlyphs" text-rendering="geometricPrecision">0.010525</text>
<text x="1172.5" y="574" font-size="10.1" fill="#000" stroke="#000" stroke-width="0.12" textLength="18" lengthAdjust="spacingAndGlyphs" text-rendering="geometricPrecision">0.00</text>
<text x="1173" y="593" font-size="10.1" fill="#000" stroke="#000" stroke-width="0.12" textLength="31.4" lengthAdjust="spacingAndGlyphs" text-rendering="geometricPrecision">-0.0073</text>
<text x="6" y="609" font-size="10.1" fill="#000" stroke="#000" stroke-width="0.12" textLength="49" lengthAdjust="spacingAndGlyphs" text-rendering="geometricPrecision">7 Nov 2018</text>
<text x="70" y="609" font-size="10.1" fill="#000" stroke="#000" stroke-width="0.12" textLength="54" lengthAdjust="spacingAndGlyphs" text-rendering="geometricPrecision">16 Nov 2018</text>
<text x="134" y="609" font-size="10.1" fill="#000" stroke="#000" stroke-width="0.12" textLength="54" lengthAdjust="spacingAndGlyphs" text-rendering="geometricPrecision">26 Nov 2018</text>
<text x="198" y="609" font-size="10.1" fill="#000" stroke="#000" stroke-width="0.12" textLength="47" lengthAdjust="spacingAndGlyphs" text-rendering="geometricPrecision">5 Dec 2018</text>
<text x="262" y="609" font-size="10.1" fill="#000" stroke="#000" stroke-width="0.12" textLength="52" lengthAdjust="spacingAndGlyphs" text-rendering="geometricPrecision">14 Dec 2018</text>
<text x="326" y="609" font-size="10.1" fill="#000" stroke="#000" stroke-width="0.12" textLength="52" lengthAdjust="spacingAndGlyphs" text-rendering="geometricPrecision">24 Dec 2018</text>
<text x="390" y="609" font-size="10.1" fill="#000" stroke="#000" stroke-width="0.12" textLength="45" lengthAdjust="spacingAndGlyphs" text-rendering="geometricPrecision">2 Jan 2019</text>
<text x="454" y="609" font-size="10.1" fill="#000" stroke="#000" stroke-width="0.12" textLength="50" lengthAdjust="spacingAndGlyphs" text-rendering="geometricPrecision">11 Jan 2019</text>
<text x="518" y="609" font-size="10.1" fill="#000" stroke="#000" stroke-width="0.12" textLength="50" lengthAdjust="spacingAndGlyphs" text-rendering="geometricPrecision">21 Jan 2019</text>
<text x="582" y="609" font-size="10.1" fill="#000" stroke="#000" stroke-width="0.12" textLength="50" lengthAdjust="spacingAndGlyphs" text-rendering="geometricPrecision">30 Jan 2019</text>
<text x="646" y="609" font-size="10.1" fill="#000" stroke="#000" stroke-width="0.12" textLength="47" lengthAdjust="spacingAndGlyphs" text-rendering="geometricPrecision">8 Feb 2019</text>
<text x="710" y="609" font-size="10.1" fill="#000" stroke="#000" stroke-width="0.12" textLength="52" lengthAdjust="spacingAndGlyphs" text-rendering="geometricPrecision">18 Feb 2019</text>
<text x="774" y="609" font-size="10.1" fill="#000" stroke="#000" stroke-width="0.12" textLength="52" lengthAdjust="spacingAndGlyphs" text-rendering="geometricPrecision">27 Feb 2019</text>
<text x="838" y="609" font-size="10.1" fill="#000" stroke="#000" stroke-width="0.12" textLength="46.5" lengthAdjust="spacingAndGlyphs" text-rendering="geometricPrecision">8 Mar 2019</text>
<text x="902" y="609" font-size="10.1" fill="#000" stroke="#000" stroke-width="0.12" textLength="51.5" lengthAdjust="spacingAndGlyphs" text-rendering="geometricPrecision">18 Mar 2019</text>
<text x="11" y="476" font-size="10.1" fill="#000" stroke="#000" stroke-width="0.12" textLength="32.2" lengthAdjust="spacingAndGlyphs" text-rendering="geometricPrecision">RSI(14)</text>
<text x="46" y="476" font-size="10.1" fill="#000" stroke="#000" stroke-width="0.12" textLength="33" lengthAdjust="spacingAndGlyphs" text-rendering="geometricPrecision">51.5987</text>
<text x="11.3" y="544" font-size="10.1" fill="#000" stroke="#000" stroke-width="0.12" textLength="66" lengthAdjust="spacingAndGlyphs" text-rendering="geometricPrecision">MACD(12,26,9)</text>
<text x="80.2" y="544" font-size="10.1" fill="#000" stroke="#000" stroke-width="0.12" textLength="38" lengthAdjust="spacingAndGlyphs" text-rendering="geometricPrecision">0.001985</text>
<text x="121" y="544" font-size="10.1" fill="#000" stroke="#000" stroke-width="0.12" textLength="38" lengthAdjust="spacingAndGlyphs" text-rendering="geometricPrecision">0.003405</text>
<text x="22.5" y="42" font-size="10.1" fill="#000" stroke="#000" stroke-width="0.12" textLength="65" lengthAdjust="spacingAndGlyphs" text-rendering="geometricPrecision">USDCAD,Daily</text>
<text x="94.2" y="42" font-size="10.1" fill="#000" stroke="#000" stroke-width="0.12" textLength="33" lengthAdjust="spacingAndGlyphs" text-rendering="geometricPrecision">1.32932</text>
<text x="130.2" y="42" font-size="10.1" fill="#000" stroke="#000" stroke-width="0.12" textLength="33" lengthAdjust="spacingAndGlyphs" text-rendering="geometricPrecision">1.33275</text>
<text x="166.2" y="42" font-size="10.1" fill="#000" stroke="#000" stroke-width="0.12" textLength="33" lengthAdjust="spacingAndGlyphs" text-rendering="geometricPrecision">1.32900</text>
<text x="202.2" y="42" font-size="10.1" fill="#000" stroke="#000" stroke-width="0.12" textLength="33" lengthAdjust="spacingAndGlyphs" text-rendering="geometricPrecision">1.33237</text>
<path d="M10 41h7v-1h-1v-1h-1v-1h-1v-1h-1v1h-1v1h-1v1h-1z" fill="#000" shape-rendering="crispEdges"/>
<text x="-2.6" y="18" font-size="10.1" fill="#3a3a3a" stroke="#3a3a3a" stroke-width="0" textLength="10.8" lengthAdjust="spacingAndGlyphs" text-rendering="geometricPrecision">15</text>
<text x="18.1" y="18" font-size="10.1" fill="#3a3a3a" stroke="#3a3a3a" stroke-width="0" textLength="18.5" lengthAdjust="spacingAndGlyphs" text-rendering="geometricPrecision">M30</text>
<text x="49.0" y="18" font-size="10.1" fill="#3a3a3a" stroke="#3a3a3a" stroke-width="0" textLength="12.4" lengthAdjust="spacingAndGlyphs" text-rendering="geometricPrecision">H1</text>
<text x="76.1" y="18" font-size="10.1" fill="#3a3a3a" stroke="#3a3a3a" stroke-width="0" textLength="13.2" lengthAdjust="spacingAndGlyphs" text-rendering="geometricPrecision">H4</text>
<text x="105.4" y="18" font-size="10.1" fill="#3a3a3a" stroke="#3a3a3a" stroke-width="0" textLength="12.0" lengthAdjust="spacingAndGlyphs" text-rendering="geometricPrecision">D1</text>
<text x="132.8" y="18" font-size="10.1" fill="#3a3a3a" stroke="#3a3a3a" stroke-width="0" textLength="14.5" lengthAdjust="spacingAndGlyphs" text-rendering="geometricPrecision">W1</text>
<text x="159.1" y="18" font-size="10.1" fill="#3a3a3a" stroke="#3a3a3a" stroke-width="0" textLength="15.8" lengthAdjust="spacingAndGlyphs" text-rendering="geometricPrecision">MN</text>
<defs><linearGradient id="pg" gradientUnits="userSpaceOnUse" x1="0" y1="50" x2="0" y2="114"><stop offset="0" stop-color="#5656f6"/><stop offset="0.38" stop-color="#3030e4"/><stop offset="1" stop-color="#0000ae"/></linearGradient></defs>
<g shape-rendering="crispEdges">
<path d="M10 50H62V74H119V114H10Z" fill="url(#pg)"/>
<path d="M177 50H229V114H121V74H177Z" fill="url(#pg)"/>
<path d="M10.5 50.5H61.5V74.5H118.5V113.5H10.5Z" fill="none" stroke="#000070" stroke-opacity="0.35"/>
<path d="M177.5 50.5H228.5V113.5H121.5V74.5H177.5Z" fill="none" stroke="#000070" stroke-opacity="0.35"/>
<rect x="14" y="73" width="44" height="1" fill="#1a1ab0"/><rect x="14" y="74" width="44" height="1" fill="#8c8cff"/>
<rect x="181" y="73" width="44" height="1" fill="#1a1ab0"/><rect x="181" y="74" width="44" height="1" fill="#8c8cff"/>
</g>
<text x="22.2" y="66" font-size="12.2" fill="#fff" textLength="26.2" lengthAdjust="spacingAndGlyphs">SELL</text>
<text x="190.4" y="66" font-size="12.2" fill="#fff" textLength="22.8" lengthAdjust="spacingAndGlyphs">BUY</text>
<text x="30" y="104.4" font-size="12.4" fill="#fff" font-weight="bold" textLength="24.4" lengthAdjust="spacingAndGlyphs">1.33</text>
<text x="140.4" y="104.4" font-size="12.4" fill="#fff" font-weight="bold" textLength="24.4" lengthAdjust="spacingAndGlyphs">1.33</text>
<text x="56.8" y="105.4" font-size="35.3" fill="#fff" stroke="url(#pg)" stroke-width="0.45" textLength="36.2" lengthAdjust="spacingAndGlyphs">23</text>
<text x="168.2" y="105.4" font-size="35.3" fill="#fff" stroke="url(#pg)" stroke-width="0.45" textLength="37.0" lengthAdjust="spacingAndGlyphs">26</text>
<text x="96.9" y="88.8" font-size="12.2" fill="#fff" font-weight="bold" textLength="7.4" lengthAdjust="spacingAndGlyphs">7</text>
<text x="207.6" y="88.8" font-size="12.2" fill="#fff" font-weight="bold" textLength="7.6" lengthAdjust="spacingAndGlyphs">0</text>
</svg>
<!-- one click trading panel: volume box -->
<div class="abs" style="left:64px;top:50px;width:109px;height:20px;border:1px solid #a9a9a9;background:#fff"></div>
<div class="abs" style="left:66px;top:52px;width:18px;height:18px;background:linear-gradient(#f4f4f4 0%,#ebebeb 31%,#dadada 36%,#cacaca 100%);box-shadow:0 0 0 1px #e9e9e9"></div>
<div class="abs" style="left:85px;top:51px;width:1px;height:20px;background:#b0b0b0"></div>
<div class="abs" style="left:155px;top:52px;width:18px;height:18px;background:linear-gradient(#f4f4f4 0%,#ebebeb 31%,#dadada 36%,#cacaca 100%);box-shadow:0 0 0 1px #e9e9e9"></div>
<div class="abs" style="left:153px;top:51px;width:1px;height:20px;background:#b0b0b0"></div>
<div class="abs" style="left:72px;top:59px;width:0;height:0;border-left:3px solid transparent;border-right:3px solid transparent;border-top:3px solid #4a62b8"></div>
<div class="abs" style="left:160.5px;top:59px;width:0;height:0;border-left:3px solid transparent;border-right:3px solid transparent;border-bottom:3px solid #4a62b8"></div>
<div class="abs" style="left:126px;top:54px;font-size:12.2px;line-height:14px;color:#000">0.05</div>
</body></html>
